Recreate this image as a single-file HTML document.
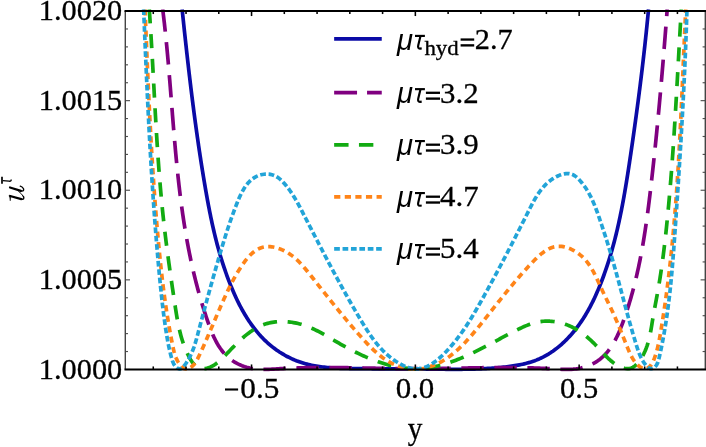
<!DOCTYPE html>
<html><head><meta charset="utf-8"><title>plot</title>
<style>
html,body{margin:0;padding:0;background:#fff;}
body{width:706px;height:447px;overflow:hidden;}
svg{display:block;will-change:transform;}
text{fill:#000;stroke:#000;stroke-width:0.3px;}
.s{font-family:"Liberation Serif",serif;}
.si{font-family:"Liberation Serif",serif;font-style:italic;}
.sa{font-family:"Liberation Sans",sans-serif;}
.sai{font-family:"Liberation Sans",sans-serif;font-style:italic;}
</style></head><body>
<svg width="706" height="447" viewBox="0 0 706 447">
<rect width="706" height="447" fill="#fff"/>
<defs><clipPath id="c"><rect x="125.3" y="9.3" width="580.0" height="362.35"/></clipPath></defs>
<g clip-path="url(#c)" stroke-linecap="butt" stroke-linejoin="round">
<path d="M182.14,9.32 L182.30,10.91 L182.47,12.49 L182.63,14.08 L182.80,15.66 L182.97,17.25 L183.13,18.83 L183.30,20.42 L183.47,22.01 L183.64,23.59 L183.80,25.18 L183.97,26.77 L184.14,28.35 L184.31,29.94 L184.48,31.53 L184.65,33.12 L184.83,34.70 L185.00,36.29 L185.17,37.88 L185.34,39.47 L185.52,41.06 L185.69,42.65 L185.86,44.24 L186.04,45.83 L186.21,47.41 L186.39,49.00 L186.57,50.59 L186.74,52.18 L186.92,53.77 L187.10,55.36 L187.28,56.95 L187.46,58.55 L187.64,60.14 L187.82,61.73 L188.00,63.32 L188.18,64.91 L188.37,66.50 L188.55,68.09 L188.73,69.68 L188.92,71.27 L189.10,72.86 L189.29,74.45 L189.48,76.04 L189.67,77.63 L189.86,79.23 L190.05,80.82 L190.24,82.41 L190.43,84.00 L190.62,85.59 L190.81,87.18 L191.01,88.77 L191.20,90.36 L191.40,91.95 L191.59,93.54 L191.79,95.13 L191.99,96.72 L192.19,98.31 L192.39,99.90 L192.59,101.49 L192.79,103.08 L192.99,104.67 L193.20,106.26 L193.40,107.85 L193.61,109.44 L193.82,111.03 L194.02,112.62 L194.23,114.21 L194.44,115.80 L194.66,117.39 L194.87,118.98 L195.08,120.57 L195.30,122.15 L195.51,123.74 L195.73,125.33 L195.95,126.92 L196.16,128.50 L196.38,130.09 L196.61,131.68 L196.83,133.27 L197.05,134.85 L197.28,136.44 L197.50,138.02 L197.73,139.61 L197.96,141.19 L198.19,142.78 L198.42,144.36 L198.65,145.95 L198.88,147.53 L199.12,149.12 L199.35,150.70 L199.59,152.28 L199.83,153.86 L200.07,155.45 L200.31,157.03 L200.56,158.61 L200.80,160.19 L201.04,161.77 L201.29,163.35 L201.54,164.93 L201.79,166.51 L202.04,168.09 L202.29,169.67 L202.55,171.25 L202.80,172.83 L203.06,174.40 L203.32,175.98 L203.58,177.56 L203.84,179.13 L204.10,180.71 L204.37,182.28 L204.63,183.86 L204.90,185.43 L205.17,187.01 L205.44,188.58 L205.71,190.15 L205.99,191.72 L206.26,193.29 L206.54,194.87 L206.82,196.44 L207.11,198.01 L207.39,199.57 L207.68,201.14 L207.97,202.71 L208.27,204.28 L208.56,205.84 L208.86,207.41 L209.17,208.97 L209.47,210.54 L209.78,212.10 L210.09,213.66 L210.41,215.22 L210.73,216.78 L211.06,218.34 L211.39,219.90 L211.72,221.46 L212.05,223.02 L212.40,224.57 L212.74,226.13 L213.09,227.68 L213.45,229.23 L213.81,230.79 L214.17,232.34 L214.54,233.89 L214.91,235.44 L215.29,236.98 L215.68,238.53 L216.07,240.08 L216.46,241.62 L216.87,243.16 L217.27,244.70 L217.69,246.25 L218.10,247.79 L218.53,249.32 L218.96,250.86 L219.40,252.40 L219.84,253.93 L220.29,255.46 L220.75,257.00 L221.22,258.53 L221.69,260.05 L222.17,261.58 L222.65,263.11 L223.14,264.63 L223.64,266.16 L224.15,267.68 L224.67,269.20 L225.19,270.72 L225.72,272.24 L226.26,273.75 L226.80,275.27 L227.36,276.78 L227.92,278.29 L228.49,279.80 L229.07,281.31 L229.66,282.81 L230.26,284.32 L230.86,285.82 L231.48,287.32 L232.10,288.82 L232.74,290.32 L233.38,291.81 L234.03,293.30 L234.69,294.78 L235.37,296.27 L236.05,297.74 L236.75,299.21 L237.45,300.68 L238.17,302.14 L238.89,303.59 L239.63,305.04 L240.38,306.48 L241.14,307.91 L241.92,309.33 L242.70,310.75 L243.50,312.15 L244.31,313.55 L245.14,314.94 L245.98,316.32 L246.83,317.68 L247.69,319.04 L248.57,320.39 L249.46,321.72 L250.37,323.04 L251.28,324.35 L252.22,325.65 L253.17,326.94 L254.13,328.21 L255.11,329.46 L256.10,330.71 L257.11,331.94 L258.14,333.15 L259.18,334.35 L260.24,335.53 L261.31,336.69 L262.40,337.84 L263.51,338.97 L264.63,340.09 L265.77,341.18 L266.93,342.26 L268.10,343.32 L269.30,344.36 L270.51,345.38 L271.73,346.38 L272.98,347.36 L274.24,348.32 L275.51,349.26 L276.80,350.18 L278.11,351.08 L279.43,351.96 L280.77,352.81 L282.12,353.65 L283.48,354.46 L284.86,355.25 L286.25,356.01 L287.65,356.75 L289.07,357.47 L290.49,358.16 L291.93,358.83 L293.38,359.48 L294.84,360.10 L296.31,360.70 L297.80,361.27 L299.29,361.81 L300.79,362.33 L302.30,362.82 L303.82,363.29 L305.34,363.73 L306.88,364.14 L308.42,364.53 L309.97,364.89 L311.53,365.23 L313.09,365.55 L314.66,365.84 L316.23,366.12 L317.81,366.37 L319.40,366.60 L320.99,366.82 L322.59,367.02 L324.18,367.20 L325.79,367.37 L327.39,367.52 L329.00,367.66 L330.61,367.78 L332.23,367.89 L333.85,367.99 L335.46,368.08 L337.08,368.16 L338.70,368.23 L340.32,368.29 L341.94,368.35 L343.56,368.40 L345.18,368.44 L346.80,368.48 L348.42,368.51 L350.04,368.54 L351.65,368.57 L353.26,368.60 L354.88,368.62 L356.48,368.65 L358.09,368.67 L359.70,368.69 L361.30,368.70 L362.91,368.72 L364.51,368.73 L366.11,368.74 L367.71,368.75 L369.31,368.76 L370.91,368.77 L372.50,368.78 L374.10,368.78 L375.70,368.79 L377.29,368.79 L378.88,368.79 L380.48,368.80 L382.07,368.80 L383.66,368.80 L385.25,368.80 L386.84,368.80 L388.43,368.80 L390.02,368.80 L391.61,368.80 L393.20,368.81 L394.79,368.81 L396.38,368.81 L397.97,368.81 L399.56,368.81 L401.15,368.82 L402.74,368.82 L404.33,368.83 L405.92,368.83 L407.51,368.84 L409.10,368.85 L410.69,368.86 L412.28,368.87 L413.87,368.88 L415.47,368.90 L417.06,368.91 L418.65,368.93 L420.25,368.95 L421.84,368.97 L423.44,368.99 L425.04,369.01 L426.63,369.04 L428.23,369.06 L429.83,369.08 L431.43,369.10 L433.03,369.13 L434.63,369.15 L436.23,369.17 L437.83,369.19 L439.43,369.21 L441.04,369.23 L442.64,369.25 L444.24,369.26 L445.84,369.28 L447.45,369.29 L449.05,369.30 L450.65,369.31 L452.26,369.32 L453.86,369.32 L455.47,369.32 L457.07,369.32 L458.68,369.31 L460.28,369.30 L461.89,369.29 L463.49,369.27 L465.10,369.26 L466.70,369.23 L468.31,369.20 L469.91,369.17 L471.52,369.13 L473.13,369.09 L474.73,369.05 L476.34,368.99 L477.94,368.94 L479.55,368.87 L481.15,368.81 L482.76,368.73 L484.36,368.65 L485.97,368.56 L487.57,368.47 L489.18,368.37 L490.78,368.27 L492.38,368.15 L493.99,368.03 L495.59,367.90 L497.20,367.77 L498.80,367.62 L500.40,367.47 L502.00,367.31 L503.60,367.15 L505.21,366.97 L506.81,366.79 L508.40,366.59 L510.00,366.38 L511.60,366.16 L513.19,365.93 L514.77,365.68 L516.36,365.42 L517.94,365.14 L519.51,364.85 L521.07,364.53 L522.63,364.20 L524.18,363.84 L525.73,363.47 L527.26,363.07 L528.79,362.65 L530.30,362.20 L531.81,361.72 L533.30,361.22 L534.79,360.70 L536.26,360.14 L537.71,359.55 L539.16,358.94 L540.59,358.29 L542.00,357.61 L543.41,356.91 L544.80,356.17 L546.17,355.41 L547.53,354.62 L548.88,353.80 L550.21,352.95 L551.53,352.08 L552.84,351.19 L554.13,350.27 L555.40,349.33 L556.67,348.36 L557.91,347.37 L559.15,346.36 L560.37,345.33 L561.57,344.28 L562.76,343.20 L563.93,342.11 L565.09,341.00 L566.24,339.87 L567.36,338.72 L568.48,337.55 L569.58,336.37 L570.66,335.17 L571.73,333.96 L572.78,332.73 L573.82,331.48 L574.84,330.23 L575.85,328.96 L576.84,327.67 L577.82,326.38 L578.78,325.07 L579.72,323.75 L580.65,322.43 L581.56,321.09 L582.46,319.74 L583.34,318.39 L584.20,317.03 L585.05,315.66 L585.88,314.28 L586.70,312.89 L587.51,311.50 L588.30,310.10 L589.08,308.69 L589.85,307.28 L590.60,305.86 L591.34,304.43 L592.06,303.00 L592.78,301.56 L593.48,300.12 L594.17,298.67 L594.86,297.21 L595.53,295.76 L596.18,294.29 L596.83,292.83 L597.47,291.36 L598.11,289.88 L598.73,288.41 L599.34,286.93 L599.94,285.44 L600.54,283.96 L601.13,282.47 L601.71,280.98 L602.28,279.48 L602.84,277.99 L603.40,276.49 L603.95,274.99 L604.49,273.49 L605.03,271.98 L605.55,270.47 L606.07,268.97 L606.59,267.45 L607.09,265.94 L607.59,264.42 L608.08,262.91 L608.57,261.39 L609.05,259.86 L609.52,258.34 L609.99,256.81 L610.44,255.29 L610.90,253.76 L611.34,252.23 L611.79,250.69 L612.22,249.16 L612.65,247.62 L613.07,246.08 L613.49,244.54 L613.90,243.00 L614.31,241.46 L614.71,239.91 L615.10,238.36 L615.49,236.81 L615.88,235.26 L616.26,233.71 L616.63,232.16 L617.00,230.61 L617.36,229.05 L617.72,227.49 L618.08,225.94 L618.43,224.38 L618.77,222.82 L619.11,221.25 L619.45,219.69 L619.78,218.13 L620.11,216.56 L620.44,214.99 L620.76,213.43 L621.07,211.86 L621.39,210.29 L621.70,208.72 L622.00,207.15 L622.30,205.57 L622.60,204.00 L622.90,202.43 L623.19,200.85 L623.48,199.28 L623.76,197.70 L624.04,196.12 L624.32,194.54 L624.60,192.97 L624.87,191.39 L625.14,189.81 L625.41,188.23 L625.68,186.65 L625.94,185.06 L626.20,183.48 L626.46,181.90 L626.72,180.32 L626.97,178.73 L627.23,177.15 L627.48,175.57 L627.73,173.98 L627.97,172.40 L628.22,170.82 L628.46,169.23 L628.71,167.65 L628.95,166.06 L629.19,164.48 L629.43,162.89 L629.66,161.31 L629.90,159.72 L630.14,158.14 L630.37,156.55 L630.61,154.97 L630.84,153.38 L631.07,151.80 L631.30,150.21 L631.54,148.63 L631.77,147.05 L632.00,145.46 L632.23,143.88 L632.46,142.29 L632.68,140.71 L632.91,139.13 L633.14,137.54 L633.36,135.96 L633.59,134.38 L633.81,132.79 L634.03,131.21 L634.26,129.63 L634.48,128.04 L634.70,126.46 L634.92,124.87 L635.14,123.29 L635.36,121.71 L635.58,120.12 L635.79,118.54 L636.01,116.96 L636.22,115.37 L636.44,113.79 L636.65,112.21 L636.87,110.62 L637.08,109.04 L637.29,107.46 L637.50,105.87 L637.71,104.29 L637.92,102.70 L638.13,101.12 L638.33,99.54 L638.54,97.95 L638.74,96.37 L638.95,94.78 L639.15,93.20 L639.35,91.61 L639.56,90.03 L639.76,88.45 L639.96,86.86 L640.16,85.28 L640.35,83.69 L640.55,82.10 L640.75,80.52 L640.94,78.93 L641.14,77.35 L641.33,75.76 L641.52,74.18 L641.72,72.59 L641.91,71.00 L642.10,69.42 L642.28,67.83 L642.47,66.24 L642.66,64.65 L642.85,63.07 L643.03,61.48 L643.21,59.89 L643.40,58.30 L643.58,56.71 L643.76,55.12 L643.94,53.54 L644.12,51.95 L644.30,50.36 L644.47,48.77 L644.65,47.18 L644.83,45.59 L645.00,43.99 L645.17,42.40 L645.34,40.81 L645.52,39.22 L645.69,37.63 L645.85,36.04 L646.02,34.44 L646.19,32.85 L646.36,31.26 L646.52,29.66 L646.68,28.07 L646.85,26.48 L647.01,24.88 L647.17,23.29 L647.33,21.69 L647.49,20.09 L647.64,18.50 L647.80,16.90 L647.95,15.30 L648.11,13.71 L648.26,12.11 L648.41,10.51 L648.53,9.28" fill="none" stroke="#0a0aa6" stroke-width="3.7"/>
<path d="M162.71,9.37 L162.91,10.95 L163.10,12.54 L163.29,14.13 L163.49,15.71 L163.67,17.30 L163.86,18.89 L164.04,20.48 L164.23,22.07 L164.41,23.66 L164.58,25.25 L164.76,26.84 L164.93,28.43 L165.10,30.02 L165.27,31.61 L165.44,33.20 L165.61,34.79 L165.77,36.38 L165.93,37.97 L166.09,39.56 L166.25,41.15 L166.41,42.75 L166.56,44.34 L166.72,45.93 L166.87,47.52 L167.02,49.12 L167.17,50.71 L167.32,52.30 L167.46,53.90 L167.61,55.49 L167.75,57.09 L167.90,58.68 L168.04,60.27 L168.18,61.87 L168.32,63.46 L168.46,65.06 L168.59,66.65 L168.73,68.25 L168.87,69.84 L169.00,71.44 L169.13,73.03 L169.27,74.63 L169.40,76.23 L169.53,77.82 L169.66,79.42 L169.79,81.01 L169.92,82.61 L170.05,84.21 L170.18,85.80 L170.31,87.40 L170.43,88.99 L170.56,90.59 L170.69,92.19 L170.81,93.78 L170.94,95.38 L171.07,96.98 L171.19,98.57 L171.32,100.17 L171.45,101.76 L171.57,103.36 L171.70,104.96 L171.82,106.55 L171.95,108.15 L172.07,109.75 L172.20,111.34 L172.33,112.94 L172.45,114.53 L172.58,116.13 L172.71,117.73 L172.84,119.32 L172.96,120.92 L173.09,122.51 L173.22,124.11 L173.35,125.71 L173.48,127.30 L173.61,128.90 L173.74,130.49 L173.88,132.09 L174.01,133.68 L174.14,135.28 L174.28,136.87 L174.41,138.47 L174.55,140.06 L174.69,141.66 L174.83,143.25 L174.97,144.84 L175.11,146.44 L175.25,148.03 L175.39,149.63 L175.54,151.22 L175.68,152.81 L175.83,154.41 L175.98,156.00 L176.13,157.59 L176.28,159.18 L176.43,160.78 L176.59,162.37 L176.74,163.96 L176.90,165.55 L177.06,167.14 L177.22,168.73 L177.38,170.32 L177.55,171.91 L177.71,173.50 L177.88,175.09 L178.05,176.68 L178.22,178.27 L178.40,179.86 L178.57,181.45 L178.75,183.04 L178.93,184.62 L179.11,186.21 L179.30,187.80 L179.48,189.39 L179.67,190.97 L179.86,192.56 L180.06,194.15 L180.25,195.73 L180.45,197.32 L180.65,198.90 L180.86,200.49 L181.06,202.07 L181.27,203.65 L181.49,205.24 L181.70,206.82 L181.92,208.40 L182.14,209.98 L182.36,211.56 L182.58,213.15 L182.81,214.73 L183.05,216.31 L183.28,217.89 L183.52,219.47 L183.76,221.04 L184.00,222.62 L184.25,224.20 L184.50,225.78 L184.75,227.36 L185.01,228.93 L185.27,230.51 L185.53,232.08 L185.80,233.66 L186.07,235.23 L186.35,236.81 L186.62,238.38 L186.90,239.95 L187.19,241.52 L187.48,243.10 L187.77,244.67 L188.07,246.24 L188.37,247.81 L188.67,249.38 L188.98,250.95 L189.29,252.51 L189.61,254.08 L189.93,255.65 L190.25,257.22 L190.58,258.78 L190.91,260.35 L191.25,261.91 L191.59,263.48 L191.93,265.04 L192.28,266.60 L192.63,268.16 L192.99,269.73 L193.35,271.29 L193.72,272.85 L194.09,274.41 L194.47,275.96 L194.85,277.52 L195.23,279.08 L195.62,280.64 L196.02,282.19 L196.42,283.75 L196.82,285.30 L197.23,286.86 L197.65,288.41 L198.07,289.96 L198.49,291.51 L198.92,293.06 L199.35,294.61 L199.79,296.16 L200.24,297.71 L200.69,299.26 L201.14,300.81 L201.60,302.35 L202.07,303.90 L202.54,305.44 L203.02,306.99 L203.50,308.53 L203.99,310.07 L204.48,311.61 L204.98,313.15 L205.48,314.69 L205.99,316.23 L206.51,317.77 L207.03,319.31 L207.56,320.84 L208.09,322.38 L208.63,323.91 L209.18,325.44 L209.74,326.96 L210.31,328.48 L210.90,329.99 L211.50,331.49 L212.11,332.98 L212.74,334.46 L213.39,335.92 L214.05,337.37 L214.74,338.80 L215.45,340.22 L216.18,341.62 L216.93,343.00 L217.71,344.35 L218.52,345.69 L219.36,347.00 L220.22,348.28 L221.12,349.54 L222.04,350.78 L223.00,351.98 L224.00,353.15 L225.02,354.29 L226.09,355.40 L227.20,356.47 L228.34,357.51 L229.52,358.51 L230.75,359.47 L232.02,360.40 L233.33,361.28 L234.69,362.12 L236.08,362.92 L237.51,363.67 L238.97,364.38 L240.46,365.04 L241.97,365.66 L243.50,366.23 L245.05,366.75 L246.61,367.22 L248.19,367.65 L249.77,368.02 L251.35,368.34 L252.94,368.61 L254.53,368.84 L256.12,369.03 L257.71,369.17 L259.31,369.28 L260.91,369.35 L262.51,369.40 L264.12,369.42 L265.72,369.41 L267.33,369.38 L268.93,369.33 L270.54,369.26 L272.15,369.19 L273.76,369.10 L275.37,369.01 L276.98,368.91 L278.59,368.81 L280.20,368.71 L281.81,368.62 L283.42,368.53 L285.03,368.45 L286.64,368.37 L288.25,368.30 L289.86,368.23 L291.47,368.16 L293.07,368.10 L294.68,368.04 L296.29,367.98 L297.90,367.93 L299.50,367.88 L301.11,367.84 L302.71,367.80 L304.32,367.76 L305.93,367.72 L307.53,367.69 L309.13,367.66 L310.74,367.64 L312.34,367.62 L313.95,367.60 L315.55,367.58 L317.15,367.57 L318.76,367.56 L320.36,367.55 L321.96,367.54 L323.56,367.54 L325.17,367.54 L326.77,367.54 L328.37,367.54 L329.97,367.54 L331.57,367.55 L333.17,367.56 L334.77,367.57 L336.37,367.58 L337.97,367.60 L339.57,367.61 L341.17,367.63 L342.77,367.65 L344.37,367.67 L345.97,367.69 L347.57,367.72 L349.17,367.74 L350.77,367.77 L352.37,367.79 L353.97,367.82 L355.56,367.85 L357.16,367.87 L358.76,367.90 L360.36,367.93 L361.95,367.96 L363.55,367.99 L365.15,368.02 L366.74,368.06 L368.34,368.09 L369.94,368.12 L371.53,368.15 L373.13,368.18 L374.73,368.21 L376.32,368.24 L377.92,368.27 L379.51,368.30 L381.11,368.33 L382.71,368.36 L384.30,368.39 L385.90,368.42 L387.49,368.45 L389.09,368.48 L390.68,368.50 L392.28,368.53 L393.87,368.55 L395.47,368.57 L397.06,368.59 L398.66,368.61 L400.25,368.63 L401.85,368.65 L403.44,368.66 L405.03,368.68 L406.63,368.69 L408.22,368.70 L409.82,368.71 L411.41,368.71 L413.01,368.72 L414.60,368.72 L416.19,368.72 L417.79,368.72 L419.38,368.71 L420.98,368.71 L422.57,368.70 L424.16,368.69 L425.76,368.68 L427.35,368.66 L428.95,368.65 L430.54,368.63 L432.13,368.61 L433.73,368.59 L435.32,368.57 L436.92,368.55 L438.51,368.52 L440.10,368.50 L441.70,368.47 L443.29,368.45 L444.89,368.42 L446.48,368.39 L448.08,368.36 L449.67,368.33 L451.27,368.30 L452.86,368.27 L454.46,368.24 L456.05,368.21 L457.65,368.18 L459.24,368.15 L460.84,368.12 L462.43,368.08 L464.03,368.05 L465.63,368.02 L467.22,367.99 L468.82,367.96 L470.42,367.93 L472.01,367.90 L473.61,367.87 L475.21,367.84 L476.81,367.82 L478.40,367.79 L480.00,367.76 L481.60,367.74 L483.20,367.71 L484.80,367.69 L486.40,367.67 L488.00,367.65 L489.59,367.63 L491.19,367.61 L492.79,367.60 L494.40,367.58 L496.00,367.57 L497.60,367.56 L499.20,367.55 L500.80,367.54 L502.40,367.54 L504.00,367.54 L505.61,367.54 L507.21,367.54 L508.81,367.54 L510.42,367.55 L512.02,367.56 L513.62,367.57 L515.23,367.58 L516.83,367.60 L518.44,367.62 L520.05,367.64 L521.65,367.67 L523.26,367.69 L524.87,367.73 L526.47,367.76 L528.08,367.80 L529.69,367.84 L531.30,367.89 L532.91,367.93 L534.52,367.99 L536.13,368.04 L537.74,368.10 L539.35,368.16 L540.96,368.23 L542.57,368.30 L544.19,368.38 L545.80,368.46 L547.41,368.54 L549.03,368.63 L550.64,368.72 L552.26,368.82 L553.87,368.92 L555.49,369.01 L557.10,369.11 L558.72,369.19 L560.33,369.27 L561.94,369.33 L563.55,369.38 L565.16,369.41 L566.76,369.42 L568.36,369.40 L569.96,369.35 L571.55,369.28 L573.14,369.17 L574.73,369.02 L576.31,368.83 L577.88,368.60 L579.45,368.33 L581.01,368.00 L582.57,367.62 L584.12,367.20 L585.65,366.72 L587.17,366.20 L588.67,365.62 L590.15,365.00 L591.61,364.33 L593.04,363.62 L594.44,362.87 L595.81,362.07 L597.15,361.22 L598.44,360.34 L599.70,359.41 L600.92,358.45 L602.09,357.44 L603.24,356.41 L604.34,355.33 L605.41,354.22 L606.45,353.08 L607.45,351.90 L608.43,350.70 L609.37,349.47 L610.28,348.21 L611.16,346.92 L612.02,345.61 L612.85,344.27 L613.66,342.92 L614.44,341.54 L615.20,340.14 L615.93,338.72 L616.65,337.29 L617.35,335.84 L618.02,334.38 L618.68,332.90 L619.32,331.41 L619.95,329.91 L620.57,328.41 L621.16,326.89 L621.75,325.37 L622.33,323.84 L622.89,322.31 L623.45,320.77 L624.00,319.24 L624.54,317.70 L625.08,316.16 L625.60,314.62 L626.12,313.09 L626.63,311.55 L627.14,310.00 L627.64,308.46 L628.13,306.92 L628.61,305.38 L629.09,303.83 L629.56,302.29 L630.02,300.74 L630.48,299.19 L630.93,297.65 L631.37,296.10 L631.81,294.55 L632.24,293.00 L632.66,291.45 L633.08,289.89 L633.49,288.34 L633.90,286.79 L634.30,285.23 L634.69,283.68 L635.08,282.12 L635.46,280.57 L635.84,279.01 L636.21,277.45 L636.58,275.89 L636.94,274.33 L637.29,272.77 L637.64,271.21 L637.99,269.65 L638.33,268.09 L638.66,266.53 L638.99,264.96 L639.32,263.40 L639.64,261.83 L639.95,260.27 L640.26,258.70 L640.57,257.14 L640.87,255.57 L641.17,254.00 L641.46,252.43 L641.75,250.86 L642.04,249.29 L642.32,247.72 L642.59,246.15 L642.87,244.58 L643.13,243.01 L643.40,241.44 L643.66,239.86 L643.92,238.29 L644.17,236.72 L644.43,235.14 L644.67,233.57 L644.92,231.99 L645.16,230.41 L645.40,228.84 L645.63,227.26 L645.86,225.68 L646.09,224.10 L646.32,222.52 L646.54,220.95 L646.77,219.37 L646.98,217.79 L647.20,216.21 L647.41,214.62 L647.63,213.04 L647.83,211.46 L648.04,209.88 L648.25,208.30 L648.45,206.71 L648.65,205.13 L648.85,203.55 L649.05,201.96 L649.24,200.38 L649.44,198.79 L649.63,197.21 L649.82,195.62 L650.01,194.04 L650.20,192.45 L650.39,190.87 L650.57,189.28 L650.76,187.69 L650.94,186.10 L651.12,184.52 L651.31,182.93 L651.49,181.34 L651.67,179.75 L651.85,178.16 L652.03,176.57 L652.20,174.99 L652.38,173.40 L652.56,171.81 L652.73,170.22 L652.91,168.63 L653.08,167.04 L653.25,165.45 L653.43,163.85 L653.60,162.26 L653.77,160.67 L653.94,159.08 L654.11,157.49 L654.28,155.90 L654.45,154.30 L654.61,152.71 L654.78,151.12 L654.94,149.53 L655.11,147.93 L655.27,146.34 L655.44,144.75 L655.60,143.16 L655.76,141.56 L655.92,139.97 L656.08,138.37 L656.24,136.78 L656.40,135.19 L656.56,133.59 L656.72,132.00 L656.87,130.40 L657.03,128.81 L657.19,127.22 L657.34,125.62 L657.50,124.03 L657.65,122.43 L657.80,120.84 L657.95,119.24 L658.11,117.65 L658.26,116.05 L658.41,114.45 L658.56,112.86 L658.71,111.26 L658.86,109.67 L659.00,108.07 L659.15,106.48 L659.30,104.88 L659.44,103.29 L659.59,101.69 L659.73,100.09 L659.88,98.50 L660.02,96.90 L660.17,95.31 L660.31,93.71 L660.45,92.12 L660.59,90.52 L660.73,88.92 L660.88,87.33 L661.02,85.73 L661.15,84.14 L661.29,82.54 L661.43,80.95 L661.57,79.35 L661.71,77.75 L661.84,76.16 L661.98,74.56 L662.12,72.97 L662.25,71.37 L662.39,69.78 L662.52,68.18 L662.66,66.59 L662.79,64.99 L662.92,63.40 L663.06,61.80 L663.19,60.21 L663.32,58.61 L663.45,57.02 L663.58,55.42 L663.71,53.83 L663.84,52.24 L663.97,50.64 L664.10,49.05 L664.23,47.45 L664.36,45.86 L664.49,44.27 L664.61,42.67 L664.74,41.08 L664.87,39.49 L665.00,37.89 L665.12,36.30 L665.25,34.71 L665.37,33.12 L665.50,31.52 L665.62,29.93 L665.75,28.34 L665.87,26.75 L665.99,25.16 L666.12,23.56 L666.24,21.97 L666.36,20.38 L666.49,18.79 L666.61,17.20 L666.73,15.61 L666.85,14.02 L666.97,12.43 L667.09,10.84 L667.21,9.34" fill="none" stroke="#800080" stroke-width="3.7" stroke-dasharray="22.4 10.6"/>
<path d="M149.28,9.31 L149.39,10.91 L149.50,12.50 L149.61,14.10 L149.72,15.69 L149.83,17.29 L149.94,18.89 L150.04,20.48 L150.15,22.08 L150.25,23.67 L150.35,25.27 L150.46,26.87 L150.56,28.46 L150.66,30.06 L150.76,31.66 L150.86,33.25 L150.95,34.85 L151.05,36.45 L151.15,38.04 L151.24,39.64 L151.34,41.24 L151.43,42.83 L151.53,44.43 L151.62,46.03 L151.71,47.62 L151.81,49.22 L151.90,50.82 L151.99,52.42 L152.08,54.01 L152.17,55.61 L152.26,57.21 L152.35,58.81 L152.44,60.40 L152.53,62.00 L152.62,63.60 L152.70,65.20 L152.79,66.79 L152.88,68.39 L152.97,69.99 L153.05,71.59 L153.14,73.19 L153.23,74.78 L153.31,76.38 L153.40,77.98 L153.48,79.58 L153.57,81.18 L153.66,82.77 L153.74,84.37 L153.83,85.97 L153.92,87.57 L154.00,89.16 L154.09,90.76 L154.17,92.36 L154.26,93.96 L154.35,95.56 L154.43,97.15 L154.52,98.75 L154.61,100.35 L154.69,101.95 L154.78,103.55 L154.87,105.14 L154.96,106.74 L155.05,108.34 L155.14,109.94 L155.22,111.53 L155.31,113.13 L155.40,114.73 L155.50,116.33 L155.59,117.93 L155.68,119.52 L155.77,121.12 L155.86,122.72 L155.96,124.32 L156.05,125.91 L156.14,127.51 L156.24,129.11 L156.34,130.70 L156.43,132.30 L156.53,133.90 L156.63,135.50 L156.73,137.09 L156.83,138.69 L156.93,140.29 L157.03,141.88 L157.13,143.48 L157.23,145.08 L157.34,146.67 L157.44,148.27 L157.55,149.87 L157.65,151.46 L157.76,153.06 L157.87,154.66 L157.98,156.25 L158.09,157.85 L158.20,159.44 L158.32,161.04 L158.43,162.64 L158.55,164.23 L158.66,165.83 L158.78,167.42 L158.90,169.02 L159.02,170.61 L159.15,172.21 L159.27,173.80 L159.39,175.40 L159.52,176.99 L159.65,178.59 L159.78,180.18 L159.91,181.78 L160.04,183.37 L160.17,184.97 L160.31,186.56 L160.44,188.15 L160.58,189.75 L160.72,191.34 L160.86,192.93 L161.01,194.53 L161.15,196.12 L161.30,197.71 L161.44,199.31 L161.59,200.90 L161.75,202.49 L161.90,204.09 L162.06,205.68 L162.21,207.27 L162.37,208.86 L162.53,210.46 L162.69,212.05 L162.86,213.64 L163.03,215.23 L163.20,216.82 L163.37,218.41 L163.54,220.00 L163.71,221.59 L163.89,223.19 L164.07,224.78 L164.25,226.37 L164.43,227.96 L164.62,229.55 L164.80,231.14 L164.99,232.73 L165.18,234.32 L165.37,235.90 L165.57,237.49 L165.76,239.08 L165.96,240.67 L166.16,242.26 L166.36,243.85 L166.56,245.44 L166.77,247.02 L166.97,248.61 L167.18,250.20 L167.39,251.79 L167.59,253.37 L167.81,254.96 L168.02,256.54 L168.23,258.13 L168.45,259.72 L168.66,261.30 L168.88,262.89 L169.10,264.47 L169.32,266.06 L169.54,267.64 L169.76,269.23 L169.98,270.81 L170.21,272.39 L170.43,273.98 L170.66,275.56 L170.88,277.14 L171.11,278.73 L171.34,280.31 L171.57,281.89 L171.80,283.47 L172.03,285.05 L172.26,286.64 L172.49,288.22 L172.73,289.80 L172.96,291.38 L173.19,292.96 L173.43,294.54 L173.66,296.12 L173.90,297.69 L174.14,299.27 L174.37,300.85 L174.61,302.43 L174.85,304.01 L175.09,305.58 L175.33,307.16 L175.57,308.74 L175.81,310.31 L176.06,311.89 L176.31,313.46 L176.57,315.04 L176.83,316.61 L177.10,318.18 L177.38,319.75 L177.67,321.32 L177.97,322.89 L178.28,324.45 L178.60,326.01 L178.93,327.58 L179.28,329.14 L179.65,330.69 L180.03,332.25 L180.42,333.80 L180.83,335.36 L181.27,336.91 L181.72,338.45 L182.19,340.00 L182.68,341.54 L183.20,343.08 L183.74,344.61 L184.30,346.14 L184.88,347.67 L185.50,349.20 L186.14,350.72 L186.80,352.24 L187.50,353.76 L188.23,355.27 L188.98,356.76 L189.78,358.23 L190.61,359.66 L191.49,361.02 L192.40,362.32 L193.37,363.54 L194.39,364.66 L195.46,365.67 L196.59,366.55 L197.78,367.30 L199.04,367.90 L200.36,368.34 L201.74,368.60 L203.18,368.70 L204.66,368.63 L206.16,368.41 L207.67,368.04 L209.18,367.53 L210.68,366.90 L212.15,366.16 L213.60,365.34 L215.00,364.44 L216.35,363.49 L217.66,362.50 L218.91,361.46 L220.13,360.39 L221.32,359.30 L222.48,358.18 L223.62,357.03 L224.75,355.88 L225.87,354.71 L227.00,353.54 L228.13,352.36 L229.26,351.18 L230.39,350.00 L231.53,348.82 L232.67,347.65 L233.81,346.48 L234.97,345.32 L236.13,344.16 L237.29,343.02 L238.46,341.88 L239.65,340.76 L240.84,339.66 L242.04,338.57 L243.25,337.50 L244.47,336.45 L245.70,335.42 L246.95,334.42 L248.21,333.44 L249.48,332.49 L250.77,331.56 L252.07,330.67 L253.39,329.81 L254.73,328.99 L256.08,328.20 L257.45,327.44 L258.84,326.73 L260.24,326.06 L261.67,325.43 L263.12,324.85 L264.59,324.31 L266.08,323.82 L267.59,323.38 L269.12,322.98 L270.68,322.64 L272.25,322.35 L273.84,322.11 L275.44,321.91 L277.06,321.75 L278.68,321.65 L280.31,321.58 L281.95,321.56 L283.59,321.58 L285.23,321.65 L286.87,321.75 L288.50,321.89 L290.13,322.07 L291.76,322.29 L293.37,322.55 L294.97,322.84 L296.56,323.17 L298.14,323.52 L299.69,323.92 L301.23,324.34 L302.75,324.80 L304.25,325.28 L305.73,325.80 L307.19,326.34 L308.65,326.90 L310.08,327.49 L311.51,328.11 L312.92,328.74 L314.33,329.40 L315.72,330.07 L317.10,330.77 L318.48,331.47 L319.85,332.20 L321.22,332.94 L322.58,333.69 L323.94,334.45 L325.30,335.23 L326.65,336.01 L328.01,336.80 L329.36,337.59 L330.72,338.39 L332.08,339.20 L333.45,340.01 L334.82,340.81 L336.20,341.62 L337.58,342.43 L338.98,343.23 L340.38,344.03 L341.79,344.83 L343.20,345.62 L344.63,346.41 L346.06,347.19 L347.50,347.97 L348.94,348.74 L350.40,349.51 L351.86,350.27 L353.32,351.02 L354.79,351.76 L356.27,352.49 L357.75,353.21 L359.24,353.93 L360.74,354.63 L362.23,355.32 L363.74,356.00 L365.25,356.67 L366.76,357.33 L368.28,357.97 L369.80,358.61 L371.32,359.22 L372.85,359.83 L374.39,360.41 L375.92,360.99 L377.46,361.54 L379.00,362.08 L380.55,362.61 L382.10,363.11 L383.65,363.60 L385.20,364.07 L386.75,364.52 L388.31,364.95 L389.86,365.36 L391.42,365.75 L392.98,366.12 L394.54,366.47 L396.10,366.80 L397.66,367.10 L399.22,367.38 L400.79,367.64 L402.35,367.87 L403.91,368.08 L405.47,368.26 L407.03,368.42 L408.59,368.55 L410.15,368.65 L411.71,368.73 L413.26,368.78 L414.82,368.80 L416.37,368.80 L417.92,368.76 L419.47,368.70 L421.01,368.61 L422.56,368.49 L424.10,368.34 L425.64,368.17 L427.18,367.98 L428.71,367.76 L430.25,367.51 L431.78,367.24 L433.31,366.95 L434.84,366.64 L436.36,366.30 L437.89,365.94 L439.41,365.57 L440.93,365.17 L442.45,364.75 L443.96,364.31 L445.48,363.85 L446.99,363.38 L448.50,362.88 L450.01,362.37 L451.51,361.85 L453.02,361.30 L454.52,360.75 L456.02,360.17 L457.52,359.59 L459.01,358.98 L460.51,358.37 L462.00,357.74 L463.49,357.10 L464.97,356.45 L466.46,355.79 L467.94,355.12 L469.42,354.43 L470.90,353.74 L472.38,353.04 L473.86,352.33 L475.33,351.61 L476.80,350.89 L478.27,350.15 L479.74,349.42 L481.20,348.67 L482.66,347.92 L484.12,347.17 L485.58,346.42 L487.04,345.65 L488.49,344.89 L489.94,344.13 L491.39,343.36 L492.84,342.59 L494.29,341.82 L495.73,341.05 L497.17,340.28 L498.61,339.51 L500.05,338.75 L501.48,337.98 L502.92,337.22 L504.35,336.46 L505.78,335.71 L507.20,334.95 L508.63,334.21 L510.05,333.47 L511.47,332.73 L512.89,332.00 L514.30,331.28 L515.72,330.57 L517.13,329.86 L518.54,329.17 L519.95,328.48 L521.36,327.81 L522.78,327.16 L524.19,326.53 L525.62,325.92 L527.05,325.34 L528.48,324.79 L529.93,324.26 L531.38,323.77 L532.84,323.31 L534.32,322.88 L535.81,322.50 L537.32,322.16 L538.84,321.86 L540.37,321.61 L541.93,321.41 L543.50,321.27 L545.09,321.17 L546.71,321.13 L548.34,321.15 L549.99,321.22 L551.64,321.35 L553.30,321.52 L554.96,321.75 L556.61,322.02 L558.26,322.34 L559.89,322.70 L561.50,323.11 L563.09,323.56 L564.66,324.04 L566.19,324.57 L567.70,325.14 L569.18,325.74 L570.64,326.38 L572.08,327.05 L573.49,327.76 L574.87,328.50 L576.24,329.27 L577.58,330.08 L578.91,330.91 L580.21,331.77 L581.50,332.67 L582.76,333.59 L584.02,334.53 L585.25,335.50 L586.47,336.50 L587.67,337.52 L588.87,338.56 L590.04,339.62 L591.21,340.70 L592.37,341.80 L593.51,342.92 L594.65,344.06 L595.77,345.22 L596.89,346.39 L598.00,347.57 L599.11,348.77 L600.21,349.98 L601.32,351.19 L602.43,352.40 L603.54,353.60 L604.67,354.80 L605.81,355.98 L606.97,357.14 L608.14,358.28 L609.35,359.40 L610.57,360.48 L611.83,361.53 L613.12,362.53 L614.44,363.50 L615.81,364.41 L617.21,365.27 L618.63,366.06 L620.08,366.76 L621.54,367.37 L623.01,367.87 L624.47,368.26 L625.92,368.51 L627.35,368.61 L628.75,368.56 L630.12,368.34 L631.45,367.93 L632.73,367.36 L633.97,366.63 L635.16,365.75 L636.31,364.75 L637.41,363.63 L638.47,362.41 L639.48,361.11 L640.44,359.73 L641.35,358.29 L642.22,356.81 L643.03,355.31 L643.80,353.78 L644.52,352.25 L645.20,350.72 L645.82,349.19 L646.41,347.66 L646.96,346.12 L647.47,344.58 L647.95,343.03 L648.39,341.49 L648.81,339.94 L649.20,338.39 L649.56,336.84 L649.90,335.29 L650.23,333.73 L650.53,332.18 L650.82,330.62 L651.10,329.06 L651.37,327.50 L651.63,325.94 L651.88,324.37 L652.13,322.81 L652.38,321.24 L652.64,319.68 L652.90,318.11 L653.16,316.54 L653.43,314.97 L653.71,313.40 L653.99,311.83 L654.28,310.26 L654.57,308.69 L654.86,307.11 L655.16,305.54 L655.45,303.96 L655.75,302.39 L656.05,300.81 L656.34,299.24 L656.64,297.66 L656.93,296.08 L657.22,294.51 L657.51,292.93 L657.79,291.35 L658.07,289.77 L658.35,288.19 L658.62,286.61 L658.89,285.03 L659.15,283.45 L659.41,281.87 L659.67,280.29 L659.92,278.71 L660.17,277.13 L660.41,275.54 L660.65,273.96 L660.89,272.38 L661.13,270.79 L661.36,269.21 L661.59,267.63 L661.81,266.04 L662.03,264.46 L662.25,262.87 L662.47,261.29 L662.68,259.70 L662.89,258.11 L663.10,256.53 L663.30,254.94 L663.50,253.35 L663.70,251.77 L663.90,250.18 L664.09,248.59 L664.28,247.00 L664.47,245.41 L664.66,243.83 L664.84,242.24 L665.03,240.65 L665.21,239.06 L665.38,237.47 L665.56,235.88 L665.73,234.29 L665.91,232.70 L666.08,231.11 L666.24,229.52 L666.41,227.93 L666.57,226.34 L666.74,224.74 L666.90,223.15 L667.06,221.56 L667.22,219.97 L667.38,218.38 L667.53,216.79 L667.69,215.19 L667.84,213.60 L667.99,212.01 L668.14,210.42 L668.29,208.83 L668.44,207.23 L668.59,205.64 L668.73,204.05 L668.88,202.45 L669.02,200.86 L669.16,199.27 L669.30,197.67 L669.44,196.08 L669.58,194.49 L669.72,192.89 L669.85,191.30 L669.99,189.71 L670.12,188.11 L670.25,186.52 L670.38,184.92 L670.51,183.33 L670.64,181.73 L670.77,180.14 L670.90,178.54 L671.02,176.95 L671.15,175.36 L671.27,173.76 L671.40,172.17 L671.52,170.57 L671.64,168.97 L671.76,167.38 L671.88,165.78 L672.00,164.19 L672.12,162.59 L672.23,161.00 L672.35,159.40 L672.46,157.81 L672.58,156.21 L672.69,154.61 L672.80,153.02 L672.92,151.42 L673.03,149.83 L673.14,148.23 L673.25,146.63 L673.35,145.04 L673.46,143.44 L673.57,141.84 L673.68,140.25 L673.78,138.65 L673.89,137.05 L673.99,135.46 L674.09,133.86 L674.20,132.26 L674.30,130.67 L674.40,129.07 L674.50,127.47 L674.60,125.88 L674.70,124.28 L674.80,122.68 L674.90,121.08 L675.00,119.49 L675.10,117.89 L675.20,116.29 L675.29,114.69 L675.39,113.10 L675.49,111.50 L675.58,109.90 L675.68,108.30 L675.77,106.71 L675.87,105.11 L675.96,103.51 L676.05,101.91 L676.15,100.32 L676.24,98.72 L676.33,97.12 L676.42,95.52 L676.52,93.93 L676.61,92.33 L676.70,90.73 L676.79,89.13 L676.88,87.54 L676.97,85.94 L677.06,84.34 L677.15,82.74 L677.24,81.14 L677.33,79.55 L677.42,77.95 L677.51,76.35 L677.60,74.75 L677.69,73.16 L677.78,71.56 L677.87,69.96 L677.96,68.36 L678.05,66.77 L678.13,65.17 L678.22,63.57 L678.31,61.97 L678.40,60.37 L678.49,58.78 L678.58,57.18 L678.67,55.58 L678.76,53.98 L678.84,52.39 L678.93,50.79 L679.02,49.19 L679.11,47.59 L679.20,46.00 L679.29,44.40 L679.38,42.80 L679.47,41.21 L679.56,39.61 L679.65,38.01 L679.74,36.41 L679.83,34.82 L679.92,33.22 L680.01,31.62 L680.10,30.03 L680.19,28.43 L680.28,26.83 L680.38,25.24 L680.47,23.64 L680.56,22.04 L680.65,20.45 L680.75,18.85 L680.84,17.25 L680.93,15.66 L681.03,14.06 L681.12,12.46 L681.22,10.87 L681.31,9.31" fill="none" stroke="#12ab12" stroke-width="3.7" stroke-dasharray="14.2 10.58"/>
<path d="M145.01,9.32 L145.08,10.92 L145.14,12.51 L145.21,14.11 L145.28,15.70 L145.34,17.30 L145.41,18.89 L145.47,20.49 L145.54,22.08 L145.61,23.68 L145.67,25.27 L145.74,26.87 L145.81,28.47 L145.87,30.06 L145.94,31.66 L146.00,33.25 L146.07,34.85 L146.14,36.45 L146.20,38.04 L146.27,39.64 L146.34,41.24 L146.40,42.84 L146.47,44.43 L146.54,46.03 L146.61,47.63 L146.67,49.23 L146.74,50.82 L146.81,52.42 L146.88,54.02 L146.95,55.62 L147.01,57.22 L147.08,58.81 L147.15,60.41 L147.22,62.01 L147.29,63.61 L147.36,65.21 L147.43,66.81 L147.50,68.41 L147.57,70.00 L147.64,71.60 L147.71,73.20 L147.78,74.80 L147.85,76.40 L147.92,78.00 L148.00,79.60 L148.07,81.20 L148.14,82.80 L148.21,84.40 L148.29,86.00 L148.36,87.60 L148.43,89.20 L148.51,90.80 L148.58,92.40 L148.66,94.00 L148.73,95.60 L148.81,97.19 L148.88,98.79 L148.96,100.39 L149.04,101.99 L149.12,103.59 L149.19,105.19 L149.27,106.79 L149.35,108.39 L149.43,109.99 L149.51,111.59 L149.59,113.19 L149.67,114.79 L149.75,116.39 L149.83,117.99 L149.92,119.59 L150.00,121.19 L150.08,122.79 L150.17,124.39 L150.25,125.99 L150.34,127.59 L150.42,129.19 L150.51,130.79 L150.59,132.39 L150.68,133.99 L150.77,135.59 L150.86,137.19 L150.95,138.79 L151.04,140.39 L151.13,141.99 L151.22,143.59 L151.31,145.18 L151.40,146.78 L151.50,148.38 L151.59,149.98 L151.68,151.58 L151.78,153.18 L151.87,154.78 L151.97,156.38 L152.07,157.97 L152.17,159.57 L152.26,161.17 L152.36,162.77 L152.46,164.37 L152.56,165.97 L152.67,167.56 L152.77,169.16 L152.87,170.76 L152.98,172.36 L153.08,173.95 L153.19,175.55 L153.29,177.15 L153.40,178.75 L153.51,180.34 L153.62,181.94 L153.73,183.54 L153.84,185.13 L153.95,186.73 L154.06,188.33 L154.18,189.92 L154.29,191.52 L154.40,193.11 L154.52,194.71 L154.64,196.31 L154.76,197.90 L154.87,199.50 L154.99,201.09 L155.11,202.69 L155.24,204.28 L155.36,205.88 L155.48,207.47 L155.61,209.06 L155.73,210.66 L155.86,212.25 L155.99,213.85 L156.12,215.44 L156.25,217.03 L156.38,218.63 L156.51,220.22 L156.64,221.81 L156.77,223.40 L156.91,225.00 L157.05,226.59 L157.18,228.18 L157.32,229.77 L157.46,231.36 L157.60,232.95 L157.74,234.54 L157.88,236.14 L158.03,237.73 L158.17,239.32 L158.32,240.91 L158.47,242.50 L158.62,244.09 L158.76,245.67 L158.92,247.26 L159.07,248.85 L159.22,250.44 L159.38,252.03 L159.53,253.62 L159.69,255.21 L159.85,256.79 L160.01,258.38 L160.17,259.97 L160.34,261.55 L160.50,263.14 L160.67,264.73 L160.84,266.32 L161.01,267.90 L161.18,269.49 L161.36,271.07 L161.54,272.66 L161.72,274.25 L161.90,275.83 L162.08,277.42 L162.27,279.00 L162.45,280.59 L162.64,282.18 L162.84,283.76 L163.03,285.35 L163.23,286.93 L163.43,288.52 L163.63,290.10 L163.84,291.69 L164.04,293.27 L164.25,294.86 L164.47,296.44 L164.68,298.03 L164.90,299.62 L165.12,301.20 L165.35,302.79 L165.57,304.37 L165.80,305.96 L166.04,307.54 L166.27,309.13 L166.51,310.71 L166.76,312.30 L167.00,313.89 L167.25,315.47 L167.51,317.06 L167.76,318.64 L168.02,320.23 L168.29,321.82 L168.55,323.40 L168.82,324.99 L169.10,326.58 L169.38,328.16 L169.66,329.75 L169.94,331.34 L170.23,332.93 L170.52,334.51 L170.82,336.10 L171.12,337.69 L171.43,339.28 L171.74,340.87 L172.05,342.45 L172.37,344.04 L172.69,345.63 L173.02,347.22 L173.36,348.80 L173.73,350.37 L174.12,351.93 L174.55,353.48 L175.02,355.00 L175.53,356.50 L176.10,357.98 L176.73,359.42 L177.43,360.83 L178.21,362.20 L179.06,363.53 L180.00,364.81 L181.04,366.04 L182.17,367.17 L183.39,368.09 L184.70,368.72 L186.11,368.96 L187.57,368.80 L189.04,368.31 L190.49,367.54 L191.85,366.58 L193.10,365.48 L194.20,364.28 L195.17,363.01 L196.05,361.67 L196.84,360.29 L197.58,358.87 L198.29,357.43 L198.98,355.98 L199.67,354.52 L200.35,353.06 L201.03,351.60 L201.71,350.13 L202.38,348.66 L203.05,347.19 L203.72,345.71 L204.38,344.23 L205.04,342.75 L205.69,341.27 L206.34,339.79 L206.99,338.30 L207.64,336.81 L208.29,335.33 L208.93,333.84 L209.57,332.35 L210.21,330.86 L210.85,329.37 L211.48,327.88 L212.12,326.40 L212.75,324.91 L213.38,323.42 L214.01,321.94 L214.65,320.45 L215.28,318.97 L215.91,317.49 L216.54,316.02 L217.17,314.54 L217.80,313.07 L218.43,311.60 L219.06,310.14 L219.69,308.68 L220.32,307.22 L220.96,305.76 L221.59,304.32 L222.23,302.87 L222.87,301.43 L223.51,300.00 L224.15,298.57 L224.79,297.14 L225.44,295.73 L226.09,294.31 L226.74,292.90 L227.40,291.50 L228.07,290.10 L228.75,288.70 L229.43,287.31 L230.12,285.91 L230.83,284.52 L231.54,283.13 L232.27,281.74 L233.01,280.35 L233.77,278.96 L234.54,277.57 L235.33,276.17 L236.13,274.78 L236.96,273.38 L237.80,271.97 L238.67,270.57 L239.56,269.16 L240.47,267.74 L241.40,266.33 L242.36,264.91 L243.34,263.50 L244.35,262.10 L245.38,260.72 L246.44,259.37 L247.53,258.06 L248.64,256.78 L249.78,255.55 L250.94,254.38 L252.13,253.26 L253.35,252.22 L254.60,251.24 L255.88,250.35 L257.18,249.54 L258.52,248.83 L259.88,248.21 L261.28,247.70 L262.70,247.29 L264.14,246.99 L265.61,246.77 L267.09,246.65 L268.59,246.62 L270.09,246.68 L271.61,246.82 L273.13,247.03 L274.65,247.33 L276.18,247.70 L277.69,248.13 L279.21,248.64 L280.71,249.20 L282.20,249.83 L283.67,250.51 L285.12,251.25 L286.55,252.04 L287.96,252.87 L289.33,253.75 L290.68,254.67 L291.99,255.63 L293.27,256.62 L294.51,257.64 L295.73,258.70 L296.92,259.78 L298.08,260.89 L299.22,262.02 L300.33,263.18 L301.43,264.36 L302.51,265.55 L303.57,266.76 L304.62,267.98 L305.66,269.22 L306.68,270.46 L307.70,271.71 L308.71,272.97 L309.72,274.23 L310.72,275.49 L311.72,276.75 L312.72,278.01 L313.72,279.27 L314.72,280.52 L315.72,281.78 L316.72,283.04 L317.71,284.30 L318.71,285.55 L319.70,286.81 L320.70,288.06 L321.69,289.32 L322.68,290.57 L323.68,291.82 L324.67,293.07 L325.66,294.32 L326.66,295.57 L327.65,296.82 L328.65,298.07 L329.64,299.32 L330.64,300.56 L331.63,301.81 L332.63,303.05 L333.63,304.29 L334.63,305.53 L335.63,306.78 L336.63,308.01 L337.64,309.25 L338.64,310.49 L339.65,311.72 L340.66,312.96 L341.67,314.19 L342.68,315.42 L343.70,316.65 L344.71,317.88 L345.73,319.11 L346.75,320.33 L347.78,321.55 L348.81,322.78 L349.84,324.00 L350.87,325.22 L351.91,326.43 L352.94,327.65 L353.99,328.86 L355.03,330.07 L356.08,331.28 L357.14,332.49 L358.19,333.70 L359.25,334.90 L360.32,336.10 L361.39,337.30 L362.46,338.50 L363.54,339.69 L364.62,340.88 L365.71,342.06 L366.81,343.24 L367.92,344.40 L369.03,345.56 L370.16,346.70 L371.29,347.83 L372.44,348.95 L373.60,350.05 L374.77,351.13 L375.96,352.20 L377.16,353.25 L378.37,354.27 L379.61,355.27 L380.86,356.25 L382.12,357.21 L383.41,358.14 L384.71,359.04 L386.04,359.91 L387.38,360.75 L388.75,361.56 L390.14,362.34 L391.55,363.09 L392.99,363.79 L394.45,364.47 L395.93,365.10 L397.44,365.70 L398.97,366.25 L400.52,366.76 L402.09,367.22 L403.66,367.64 L405.25,368.01 L406.85,368.34 L408.45,368.61 L410.06,368.82 L411.66,368.99 L413.27,369.09 L414.87,369.14 L416.46,369.13 L418.05,369.06 L419.63,368.94 L421.20,368.76 L422.76,368.52 L424.32,368.23 L425.86,367.89 L427.39,367.50 L428.91,367.07 L430.42,366.59 L431.92,366.06 L433.40,365.50 L434.88,364.89 L436.33,364.24 L437.78,363.56 L439.21,362.84 L440.62,362.08 L442.02,361.30 L443.41,360.48 L444.77,359.64 L446.12,358.76 L447.46,357.87 L448.77,356.94 L450.07,356.00 L451.35,355.03 L452.61,354.04 L453.86,353.03 L455.09,352.00 L456.31,350.95 L457.51,349.89 L458.70,348.80 L459.88,347.71 L461.04,346.59 L462.19,345.46 L463.33,344.32 L464.45,343.16 L465.57,341.99 L466.67,340.81 L467.76,339.62 L468.85,338.42 L469.92,337.21 L470.98,335.99 L472.04,334.77 L473.09,333.54 L474.13,332.30 L475.17,331.06 L476.20,329.82 L477.22,328.57 L478.24,327.32 L479.25,326.07 L480.26,324.82 L481.26,323.57 L482.26,322.32 L483.26,321.07 L484.25,319.83 L485.24,318.58 L486.23,317.34 L487.22,316.09 L488.20,314.85 L489.19,313.61 L490.17,312.37 L491.15,311.13 L492.13,309.90 L493.11,308.66 L494.09,307.42 L495.07,306.19 L496.05,304.96 L497.03,303.72 L498.01,302.49 L498.99,301.26 L499.97,300.03 L500.95,298.80 L501.94,297.57 L502.93,296.35 L503.92,295.12 L504.91,293.89 L505.91,292.67 L506.91,291.44 L507.91,290.22 L508.92,289.00 L509.93,287.77 L510.94,286.55 L511.96,285.33 L512.98,284.11 L514.01,282.88 L515.04,281.66 L516.08,280.44 L517.13,279.22 L518.18,278.00 L519.23,276.78 L520.30,275.56 L521.37,274.34 L522.45,273.12 L523.53,271.90 L524.62,270.68 L525.72,269.46 L526.83,268.24 L527.95,267.03 L529.07,265.81 L530.21,264.59 L531.35,263.37 L532.50,262.15 L533.67,260.95 L534.84,259.75 L536.03,258.58 L537.23,257.43 L538.44,256.30 L539.66,255.22 L540.90,254.17 L542.16,253.16 L543.43,252.20 L544.71,251.29 L546.01,250.45 L547.33,249.67 L548.67,248.95 L550.03,248.31 L551.40,247.75 L552.80,247.27 L554.21,246.88 L555.65,246.58 L557.11,246.38 L558.59,246.28 L560.09,246.29 L561.62,246.41 L563.16,246.63 L564.70,246.95 L566.25,247.35 L567.80,247.85 L569.34,248.42 L570.87,249.07 L572.38,249.80 L573.86,250.59 L575.32,251.44 L576.74,252.34 L578.12,253.30 L579.46,254.31 L580.74,255.36 L581.97,256.44 L583.15,257.56 L584.28,258.71 L585.36,259.90 L586.39,261.11 L587.39,262.36 L588.34,263.62 L589.26,264.92 L590.14,266.24 L590.99,267.58 L591.81,268.94 L592.61,270.31 L593.37,271.71 L594.12,273.12 L594.85,274.54 L595.56,275.97 L596.26,277.41 L596.95,278.87 L597.62,280.32 L598.30,281.78 L598.96,283.25 L599.63,284.71 L600.30,286.18 L600.97,287.64 L601.64,289.10 L602.33,290.55 L603.02,292.00 L603.71,293.45 L604.41,294.89 L605.11,296.34 L605.81,297.78 L606.51,299.21 L607.21,300.65 L607.91,302.09 L608.61,303.52 L609.31,304.96 L610.01,306.40 L610.70,307.83 L611.38,309.27 L612.06,310.71 L612.74,312.15 L613.40,313.60 L614.06,315.05 L614.71,316.49 L615.35,317.95 L615.99,319.40 L616.62,320.86 L617.24,322.32 L617.86,323.78 L618.48,325.25 L619.09,326.72 L619.69,328.19 L620.30,329.66 L620.90,331.14 L621.50,332.62 L622.10,334.10 L622.69,335.59 L623.29,337.08 L623.89,338.57 L624.49,340.06 L625.08,341.56 L625.69,343.06 L626.29,344.56 L626.89,346.07 L627.50,347.58 L628.12,349.09 L628.74,350.59 L629.39,352.09 L630.06,353.57 L630.76,355.04 L631.49,356.48 L632.28,357.89 L633.11,359.27 L633.99,360.60 L634.95,361.90 L635.97,363.14 L637.06,364.33 L638.24,365.46 L639.51,366.51 L640.84,367.44 L642.21,368.19 L643.60,368.68 L644.98,368.86 L646.33,368.67 L647.63,368.13 L648.84,367.30 L649.97,366.25 L650.97,365.04 L651.87,363.71 L652.67,362.28 L653.39,360.77 L654.03,359.22 L654.63,357.63 L655.18,356.04 L655.70,354.46 L656.19,352.87 L656.65,351.29 L657.08,349.71 L657.49,348.13 L657.87,346.55 L658.23,344.97 L658.58,343.40 L658.90,341.82 L659.21,340.25 L659.51,338.68 L659.80,337.10 L660.07,335.53 L660.35,333.96 L660.61,332.39 L660.88,330.81 L661.14,329.24 L661.40,327.67 L661.65,326.09 L661.91,324.52 L662.16,322.94 L662.41,321.37 L662.66,319.79 L662.90,318.21 L663.15,316.64 L663.39,315.06 L663.63,313.48 L663.86,311.90 L664.10,310.33 L664.33,308.75 L664.56,307.17 L664.79,305.59 L665.02,304.01 L665.24,302.43 L665.46,300.85 L665.68,299.27 L665.90,297.69 L666.12,296.10 L666.33,294.52 L666.54,292.94 L666.75,291.36 L666.96,289.78 L667.17,288.19 L667.37,286.61 L667.57,285.02 L667.77,283.44 L667.97,281.86 L668.17,280.27 L668.36,278.69 L668.56,277.10 L668.75,275.52 L668.94,273.93 L669.12,272.34 L669.31,270.76 L669.49,269.17 L669.67,267.58 L669.86,266.00 L670.03,264.41 L670.21,262.82 L670.39,261.23 L670.56,259.64 L670.73,258.05 L670.90,256.47 L671.07,254.88 L671.24,253.29 L671.40,251.70 L671.56,250.11 L671.73,248.52 L671.89,246.93 L672.04,245.34 L672.20,243.74 L672.36,242.15 L672.51,240.56 L672.66,238.97 L672.81,237.38 L672.96,235.79 L673.11,234.19 L673.26,232.60 L673.40,231.01 L673.55,229.42 L673.69,227.82 L673.83,226.23 L673.97,224.64 L674.11,223.04 L674.24,221.45 L674.38,219.85 L674.51,218.26 L674.65,216.66 L674.78,215.07 L674.91,213.48 L675.04,211.88 L675.16,210.28 L675.29,208.69 L675.42,207.09 L675.54,205.50 L675.66,203.90 L675.78,202.31 L675.90,200.71 L676.02,199.11 L676.14,197.52 L676.26,195.92 L676.37,194.32 L676.49,192.73 L676.60,191.13 L676.71,189.53 L676.82,187.93 L676.93,186.34 L677.04,184.74 L677.15,183.14 L677.26,181.54 L677.36,179.95 L677.47,178.35 L677.57,176.75 L677.67,175.15 L677.78,173.55 L677.88,171.95 L677.98,170.36 L678.08,168.76 L678.18,167.16 L678.27,165.56 L678.37,163.96 L678.47,162.36 L678.56,160.76 L678.65,159.16 L678.75,157.56 L678.84,155.96 L678.93,154.36 L679.02,152.76 L679.11,151.17 L679.20,149.57 L679.29,147.97 L679.38,146.37 L679.47,144.77 L679.55,143.17 L679.64,141.57 L679.72,139.97 L679.81,138.37 L679.89,136.77 L679.98,135.17 L680.06,133.57 L680.14,131.97 L680.22,130.37 L680.30,128.77 L680.38,127.17 L680.46,125.57 L680.54,123.97 L680.62,122.37 L680.70,120.77 L680.78,119.17 L680.86,117.57 L680.93,115.97 L681.01,114.37 L681.09,112.77 L681.16,111.17 L681.24,109.57 L681.31,107.97 L681.39,106.37 L681.46,104.77 L681.53,103.17 L681.61,101.57 L681.68,99.97 L681.75,98.37 L681.83,96.77 L681.90,95.17 L681.97,93.57 L682.04,91.97 L682.11,90.37 L682.19,88.77 L682.26,87.17 L682.33,85.57 L682.40,83.97 L682.47,82.37 L682.54,80.77 L682.61,79.18 L682.68,77.58 L682.75,75.98 L682.82,74.38 L682.89,72.78 L682.96,71.18 L683.03,69.58 L683.10,67.98 L683.17,66.39 L683.24,64.79 L683.31,63.19 L683.38,61.59 L683.45,59.99 L683.52,58.40 L683.59,56.80 L683.66,55.20 L683.73,53.60 L683.80,52.01 L683.87,50.41 L683.94,48.81 L684.01,47.22 L684.08,45.62 L684.15,44.02 L684.22,42.43 L684.30,40.83 L684.37,39.24 L684.44,37.64 L684.51,36.04 L684.58,34.45 L684.66,32.85 L684.73,31.26 L684.80,29.66 L684.88,28.07 L684.95,26.47 L685.02,24.88 L685.10,23.28 L685.17,21.69 L685.25,20.10 L685.32,18.50 L685.40,16.91 L685.48,15.32 L685.55,13.72 L685.63,12.13 L685.71,10.54 L685.77,9.34" fill="none" stroke="#ff8418" stroke-width="3.7" stroke-dasharray="6.2 4.4"/>
<path d="M143.63,9.28 L143.70,10.88 L143.77,12.49 L143.83,14.09 L143.90,15.69 L143.96,17.29 L144.03,18.89 L144.10,20.49 L144.16,22.09 L144.23,23.69 L144.30,25.29 L144.36,26.90 L144.43,28.50 L144.50,30.10 L144.56,31.70 L144.63,33.30 L144.70,34.90 L144.76,36.50 L144.83,38.10 L144.90,39.70 L144.97,41.30 L145.03,42.90 L145.10,44.50 L145.17,46.10 L145.24,47.69 L145.31,49.29 L145.38,50.89 L145.44,52.49 L145.51,54.09 L145.58,55.69 L145.65,57.29 L145.72,58.89 L145.79,60.49 L145.86,62.09 L145.93,63.68 L146.00,65.28 L146.07,66.88 L146.14,68.48 L146.21,70.08 L146.28,71.68 L146.35,73.28 L146.43,74.87 L146.50,76.47 L146.57,78.07 L146.64,79.67 L146.72,81.27 L146.79,82.86 L146.86,84.46 L146.94,86.06 L147.01,87.66 L147.08,89.25 L147.16,90.85 L147.23,92.45 L147.31,94.05 L147.38,95.64 L147.46,97.24 L147.54,98.84 L147.61,100.44 L147.69,102.03 L147.77,103.63 L147.84,105.23 L147.92,106.82 L148.00,108.42 L148.08,110.02 L148.16,111.62 L148.24,113.21 L148.32,114.81 L148.40,116.41 L148.48,118.00 L148.56,119.60 L148.64,121.20 L148.72,122.79 L148.81,124.39 L148.89,125.99 L148.97,127.58 L149.06,129.18 L149.14,130.78 L149.23,132.37 L149.31,133.97 L149.40,135.56 L149.48,137.16 L149.57,138.76 L149.66,140.35 L149.74,141.95 L149.83,143.55 L149.92,145.14 L150.01,146.74 L150.10,148.33 L150.19,149.93 L150.28,151.53 L150.37,153.12 L150.46,154.72 L150.56,156.31 L150.65,157.91 L150.74,159.51 L150.84,161.10 L150.93,162.70 L151.03,164.30 L151.12,165.89 L151.22,167.49 L151.32,169.08 L151.41,170.68 L151.51,172.28 L151.61,173.87 L151.71,175.47 L151.81,177.06 L151.91,178.66 L152.01,180.25 L152.12,181.85 L152.22,183.45 L152.32,185.04 L152.43,186.64 L152.53,188.23 L152.64,189.83 L152.74,191.43 L152.85,193.02 L152.96,194.62 L153.07,196.21 L153.17,197.81 L153.28,199.41 L153.40,201.00 L153.51,202.60 L153.62,204.19 L153.73,205.79 L153.84,207.39 L153.96,208.98 L154.07,210.58 L154.19,212.18 L154.30,213.77 L154.42,215.37 L154.54,216.96 L154.66,218.56 L154.78,220.16 L154.90,221.75 L155.02,223.35 L155.14,224.95 L155.26,226.54 L155.39,228.14 L155.51,229.73 L155.64,231.33 L155.76,232.93 L155.89,234.52 L156.02,236.12 L156.15,237.72 L156.28,239.31 L156.41,240.91 L156.54,242.51 L156.67,244.10 L156.80,245.70 L156.94,247.30 L157.07,248.89 L157.21,250.49 L157.34,252.09 L157.48,253.69 L157.62,255.28 L157.76,256.88 L157.90,258.48 L158.04,260.07 L158.18,261.67 L158.33,263.27 L158.47,264.87 L158.62,266.46 L158.76,268.06 L158.91,269.66 L159.06,271.26 L159.21,272.85 L159.36,274.45 L159.51,276.05 L159.66,277.65 L159.81,279.24 L159.97,280.84 L160.12,282.44 L160.28,284.04 L160.44,285.63 L160.60,287.23 L160.76,288.82 L160.92,290.42 L161.09,292.01 L161.26,293.61 L161.43,295.20 L161.60,296.79 L161.77,298.39 L161.95,299.98 L162.13,301.57 L162.31,303.16 L162.49,304.74 L162.68,306.33 L162.87,307.91 L163.06,309.50 L163.26,311.08 L163.45,312.66 L163.66,314.24 L163.86,315.82 L164.07,317.39 L164.28,318.97 L164.50,320.54 L164.71,322.11 L164.94,323.68 L165.16,325.25 L165.39,326.81 L165.63,328.37 L165.86,329.93 L166.11,331.49 L166.35,333.04 L166.60,334.60 L166.86,336.15 L167.13,337.70 L167.40,339.26 L167.68,340.82 L167.97,342.38 L168.28,343.95 L168.60,345.52 L168.93,347.11 L169.27,348.70 L169.64,350.30 L170.02,351.92 L170.41,353.55 L170.83,355.19 L171.27,356.85 L171.73,358.52 L172.24,360.18 L172.80,361.80 L173.45,363.34 L174.21,364.79 L175.10,366.10 L176.13,367.23 L177.26,368.12 L178.45,368.68 L179.66,368.85 L180.85,368.58 L182.01,367.92 L183.13,366.95 L184.22,365.75 L185.25,364.39 L186.24,362.97 L187.17,361.53 L188.05,360.08 L188.88,358.63 L189.66,357.17 L190.40,355.70 L191.10,354.23 L191.76,352.75 L192.38,351.26 L192.97,349.77 L193.53,348.28 L194.07,346.78 L194.57,345.27 L195.06,343.76 L195.52,342.25 L195.97,340.74 L196.41,339.22 L196.83,337.69 L197.25,336.17 L197.66,334.64 L198.06,333.11 L198.47,331.57 L198.87,330.04 L199.28,328.50 L199.69,326.96 L200.10,325.42 L200.51,323.88 L200.92,322.34 L201.33,320.79 L201.75,319.24 L202.16,317.70 L202.58,316.15 L202.99,314.60 L203.41,313.05 L203.83,311.50 L204.25,309.94 L204.67,308.39 L205.09,306.84 L205.51,305.28 L205.93,303.73 L206.36,302.18 L206.78,300.62 L207.21,299.07 L207.63,297.51 L208.06,295.96 L208.49,294.40 L208.92,292.85 L209.35,291.29 L209.78,289.74 L210.21,288.19 L210.64,286.63 L211.07,285.08 L211.51,283.53 L211.94,281.98 L212.37,280.43 L212.81,278.88 L213.25,277.33 L213.68,275.79 L214.12,274.24 L214.56,272.70 L215.00,271.16 L215.44,269.62 L215.88,268.08 L216.32,266.54 L216.76,265.01 L217.21,263.48 L217.65,261.95 L218.09,260.42 L218.54,258.89 L218.99,257.37 L219.43,255.85 L219.88,254.33 L220.33,252.81 L220.77,251.30 L221.22,249.79 L221.67,248.28 L222.12,246.77 L222.58,245.27 L223.03,243.76 L223.49,242.26 L223.95,240.75 L224.42,239.25 L224.88,237.75 L225.35,236.25 L225.83,234.75 L226.31,233.25 L226.79,231.74 L227.28,230.24 L227.77,228.73 L228.27,227.23 L228.77,225.72 L229.28,224.21 L229.80,222.69 L230.32,221.18 L230.85,219.66 L231.38,218.14 L231.93,216.61 L232.48,215.09 L233.04,213.55 L233.60,212.02 L234.18,210.48 L234.76,208.93 L235.35,207.38 L235.96,205.83 L236.57,204.27 L237.19,202.70 L237.83,201.14 L238.48,199.59 L239.15,198.04 L239.84,196.51 L240.55,195.00 L241.29,193.51 L242.05,192.04 L242.84,190.61 L243.66,189.20 L244.51,187.84 L245.39,186.51 L246.31,185.23 L247.27,184.00 L248.27,182.82 L249.31,181.70 L250.40,180.64 L251.53,179.64 L252.71,178.72 L253.94,177.86 L255.22,177.08 L256.55,176.38 L257.95,175.77 L259.40,175.24 L260.90,174.80 L262.43,174.47 L264.00,174.23 L265.59,174.10 L267.18,174.08 L268.77,174.18 L270.35,174.39 L271.90,174.73 L273.42,175.19 L274.90,175.79 L276.33,176.52 L277.70,177.38 L279.02,178.35 L280.30,179.41 L281.53,180.54 L282.71,181.73 L283.86,182.97 L284.97,184.24 L286.04,185.52 L287.09,186.81 L288.10,188.11 L289.08,189.42 L290.04,190.75 L290.97,192.08 L291.87,193.43 L292.75,194.78 L293.61,196.14 L294.45,197.50 L295.27,198.88 L296.08,200.26 L296.87,201.64 L297.65,203.03 L298.41,204.43 L299.17,205.83 L299.91,207.23 L300.65,208.64 L301.39,210.04 L302.12,211.45 L302.85,212.87 L303.58,214.28 L304.31,215.69 L305.04,217.10 L305.77,218.51 L306.50,219.93 L307.23,221.34 L307.96,222.76 L308.69,224.17 L309.42,225.59 L310.15,227.00 L310.88,228.42 L311.61,229.83 L312.34,231.25 L313.07,232.66 L313.80,234.08 L314.53,235.50 L315.27,236.91 L316.00,238.33 L316.73,239.74 L317.47,241.16 L318.20,242.58 L318.94,243.99 L319.67,245.41 L320.41,246.83 L321.15,248.24 L321.89,249.66 L322.63,251.08 L323.37,252.49 L324.11,253.91 L324.85,255.32 L325.59,256.74 L326.34,258.15 L327.08,259.57 L327.83,260.98 L328.58,262.40 L329.32,263.81 L330.07,265.22 L330.82,266.64 L331.58,268.05 L332.33,269.46 L333.08,270.87 L333.84,272.28 L334.60,273.69 L335.36,275.10 L336.12,276.51 L336.88,277.92 L337.64,279.33 L338.41,280.73 L339.17,282.14 L339.94,283.55 L340.71,284.95 L341.48,286.35 L342.26,287.76 L343.03,289.16 L343.81,290.56 L344.59,291.96 L345.37,293.36 L346.15,294.76 L346.94,296.16 L347.72,297.55 L348.51,298.95 L349.30,300.35 L350.10,301.74 L350.89,303.13 L351.69,304.52 L352.49,305.91 L353.29,307.30 L354.09,308.69 L354.90,310.08 L355.71,311.46 L356.52,312.84 L357.33,314.23 L358.15,315.61 L358.97,316.99 L359.79,318.37 L360.61,319.74 L361.44,321.12 L362.27,322.49 L363.10,323.86 L363.94,325.23 L364.79,326.59 L365.64,327.95 L366.50,329.30 L367.37,330.65 L368.25,331.98 L369.13,333.31 L370.03,334.63 L370.94,335.95 L371.86,337.25 L372.80,338.54 L373.74,339.82 L374.71,341.09 L375.69,342.34 L376.68,343.59 L377.69,344.81 L378.72,346.03 L379.77,347.22 L380.84,348.40 L381.92,349.57 L383.03,350.72 L384.16,351.84 L385.32,352.95 L386.49,354.04 L387.69,355.11 L388.92,356.16 L390.17,357.19 L391.45,358.19 L392.75,359.17 L394.08,360.13 L395.44,361.06 L396.83,361.96 L398.25,362.84 L399.69,363.67 L401.14,364.46 L402.62,365.21 L404.11,365.90 L405.60,366.53 L407.11,367.09 L408.62,367.59 L410.13,368.01 L411.65,368.35 L413.16,368.61 L414.66,368.77 L416.15,368.83 L417.63,368.80 L419.10,368.67 L420.56,368.45 L422.00,368.15 L423.43,367.76 L424.85,367.29 L426.26,366.74 L427.65,366.12 L429.03,365.44 L430.39,364.69 L431.74,363.89 L433.08,363.02 L434.40,362.11 L435.71,361.15 L436.99,360.14 L438.27,359.09 L439.53,358.01 L440.77,356.90 L441.99,355.76 L443.20,354.59 L444.39,353.41 L445.57,352.21 L446.72,350.99 L447.86,349.77 L448.98,348.54 L450.09,347.31 L451.18,346.06 L452.25,344.81 L453.30,343.56 L454.34,342.29 L455.37,341.03 L456.38,339.75 L457.37,338.47 L458.35,337.18 L459.32,335.89 L460.28,334.59 L461.22,333.29 L462.15,331.98 L463.07,330.67 L463.98,329.35 L464.88,328.03 L465.77,326.71 L466.65,325.37 L467.52,324.04 L468.38,322.70 L469.23,321.36 L470.07,320.01 L470.91,318.66 L471.74,317.31 L472.56,315.95 L473.38,314.59 L474.18,313.23 L474.99,311.87 L475.79,310.50 L476.58,309.13 L477.37,307.76 L478.16,306.38 L478.94,305.01 L479.72,303.63 L480.50,302.25 L481.28,300.87 L482.05,299.49 L482.82,298.11 L483.60,296.72 L484.37,295.34 L485.14,293.95 L485.90,292.57 L486.67,291.18 L487.44,289.79 L488.20,288.40 L488.96,287.01 L489.73,285.61 L490.49,284.22 L491.25,282.83 L492.01,281.43 L492.77,280.03 L493.52,278.63 L494.28,277.23 L495.03,275.83 L495.79,274.43 L496.54,273.03 L497.29,271.63 L498.04,270.22 L498.79,268.81 L499.54,267.41 L500.29,266.00 L501.04,264.59 L501.79,263.18 L502.53,261.77 L503.28,260.35 L504.02,258.94 L504.77,257.52 L505.51,256.11 L506.25,254.69 L506.99,253.27 L507.73,251.85 L508.47,250.43 L509.21,249.01 L509.95,247.58 L510.69,246.16 L511.43,244.73 L512.16,243.31 L512.90,241.88 L513.64,240.45 L514.37,239.02 L515.11,237.59 L515.84,236.15 L516.58,234.72 L517.31,233.28 L518.04,231.85 L518.78,230.41 L519.51,228.97 L520.24,227.53 L520.97,226.09 L521.70,224.65 L522.43,223.21 L523.16,221.76 L523.90,220.32 L524.63,218.87 L525.36,217.42 L526.09,215.97 L526.81,214.52 L527.54,213.07 L528.27,211.62 L529.00,210.17 L529.74,208.72 L530.48,207.27 L531.22,205.83 L531.97,204.39 L532.73,202.97 L533.51,201.55 L534.29,200.15 L535.09,198.76 L535.91,197.38 L536.75,196.02 L537.60,194.69 L538.48,193.37 L539.38,192.07 L540.30,190.80 L541.25,189.55 L542.23,188.33 L543.24,187.14 L544.29,185.98 L545.36,184.86 L546.47,183.76 L547.62,182.70 L548.81,181.68 L550.03,180.70 L551.30,179.76 L552.61,178.87 L553.97,178.01 L555.37,177.21 L556.82,176.45 L558.32,175.75 L559.85,175.12 L561.39,174.58 L562.96,174.14 L564.53,173.82 L566.09,173.62 L567.65,173.57 L569.17,173.67 L570.67,173.94 L572.13,174.40 L573.54,175.05 L574.89,175.88 L576.20,176.86 L577.46,177.96 L578.66,179.16 L579.83,180.41 L580.95,181.70 L582.02,183.00 L583.05,184.32 L584.04,185.65 L585.00,186.99 L585.91,188.34 L586.79,189.70 L587.64,191.08 L588.46,192.46 L589.24,193.86 L590.00,195.27 L590.73,196.68 L591.43,198.10 L592.11,199.54 L592.77,200.98 L593.40,202.42 L594.02,203.88 L594.62,205.34 L595.21,206.81 L595.78,208.28 L596.34,209.76 L596.89,211.24 L597.43,212.73 L597.96,214.22 L598.49,215.72 L599.01,217.22 L599.53,218.72 L600.05,220.23 L600.56,221.73 L601.08,223.24 L601.59,224.76 L602.09,226.27 L602.60,227.79 L603.11,229.31 L603.61,230.83 L604.11,232.35 L604.60,233.88 L605.10,235.40 L605.59,236.93 L606.07,238.46 L606.56,239.99 L607.04,241.52 L607.52,243.06 L608.00,244.59 L608.47,246.13 L608.94,247.66 L609.41,249.20 L609.88,250.74 L610.34,252.28 L610.80,253.81 L611.25,255.35 L611.70,256.89 L612.15,258.43 L612.60,259.97 L613.04,261.51 L613.49,263.05 L613.92,264.60 L614.36,266.14 L614.79,267.68 L615.23,269.22 L615.66,270.76 L616.08,272.31 L616.51,273.85 L616.94,275.39 L617.36,276.93 L617.78,278.48 L618.20,280.02 L618.62,281.56 L619.04,283.11 L619.46,284.65 L619.87,286.19 L620.29,287.74 L620.70,289.28 L621.12,290.82 L621.53,292.37 L621.95,293.91 L622.36,295.45 L622.78,296.99 L623.19,298.54 L623.60,300.08 L624.02,301.62 L624.43,303.16 L624.85,304.71 L625.27,306.25 L625.68,307.79 L626.10,309.33 L626.52,310.87 L626.94,312.41 L627.36,313.95 L627.78,315.49 L628.21,317.03 L628.63,318.57 L629.06,320.11 L629.49,321.65 L629.92,323.19 L630.36,324.72 L630.79,326.26 L631.23,327.80 L631.67,329.33 L632.12,330.87 L632.56,332.40 L633.01,333.94 L633.46,335.47 L633.92,337.01 L634.37,338.54 L634.83,340.07 L635.30,341.60 L635.77,343.13 L636.24,344.66 L636.71,346.19 L637.20,347.72 L637.70,349.24 L638.23,350.76 L638.78,352.27 L639.36,353.78 L639.98,355.27 L640.65,356.76 L641.37,358.23 L642.15,359.70 L642.98,361.14 L643.89,362.58 L644.87,363.99 L645.92,365.35 L647.04,366.58 L648.21,367.60 L649.43,368.34 L650.69,368.71 L651.98,368.64 L653.26,368.15 L654.48,367.33 L655.58,366.25 L656.52,365.02 L657.27,363.67 L657.89,362.23 L658.39,360.72 L658.81,359.16 L659.19,357.58 L659.55,355.99 L659.91,354.40 L660.26,352.81 L660.61,351.22 L660.95,349.63 L661.28,348.04 L661.61,346.45 L661.93,344.86 L662.24,343.27 L662.55,341.68 L662.86,340.09 L663.16,338.50 L663.45,336.91 L663.74,335.32 L664.03,333.73 L664.30,332.14 L664.58,330.55 L664.85,328.97 L665.11,327.38 L665.37,325.79 L665.63,324.20 L665.88,322.61 L666.12,321.02 L666.36,319.43 L666.60,317.84 L666.83,316.25 L667.06,314.66 L667.29,313.08 L667.51,311.49 L667.72,309.90 L667.93,308.31 L668.14,306.72 L668.35,305.13 L668.55,303.54 L668.75,301.95 L668.94,300.36 L669.13,298.78 L669.32,297.19 L669.50,295.60 L669.68,294.01 L669.86,292.42 L670.03,290.83 L670.20,289.24 L670.37,287.65 L670.53,286.06 L670.70,284.47 L670.86,282.88 L671.01,281.29 L671.17,279.71 L671.32,278.12 L671.47,276.53 L671.62,274.94 L671.76,273.35 L671.90,271.76 L672.04,270.17 L672.18,268.58 L672.32,266.99 L672.45,265.40 L672.58,263.81 L672.72,262.22 L672.84,260.63 L672.97,259.03 L673.10,257.44 L673.22,255.85 L673.35,254.26 L673.47,252.67 L673.59,251.08 L673.71,249.49 L673.83,247.90 L673.94,246.31 L674.06,244.71 L674.18,243.12 L674.29,241.53 L674.40,239.94 L674.52,238.35 L674.63,236.75 L674.74,235.16 L674.86,233.57 L674.97,231.98 L675.08,230.38 L675.19,228.79 L675.30,227.20 L675.41,225.60 L675.52,224.01 L675.63,222.41 L675.74,220.82 L675.85,219.23 L675.96,217.63 L676.07,216.04 L676.18,214.44 L676.29,212.85 L676.40,211.25 L676.51,209.66 L676.62,208.06 L676.73,206.47 L676.84,204.87 L676.94,203.28 L677.05,201.68 L677.16,200.08 L677.27,198.49 L677.37,196.89 L677.48,195.30 L677.58,193.70 L677.69,192.10 L677.80,190.51 L677.90,188.91 L678.01,187.31 L678.11,185.72 L678.22,184.12 L678.32,182.52 L678.43,180.93 L678.53,179.33 L678.63,177.73 L678.74,176.13 L678.84,174.54 L678.94,172.94 L679.04,171.34 L679.14,169.74 L679.25,168.14 L679.35,166.55 L679.45,164.95 L679.55,163.35 L679.65,161.75 L679.75,160.15 L679.85,158.56 L679.95,156.96 L680.04,155.36 L680.14,153.76 L680.24,152.16 L680.34,150.56 L680.44,148.96 L680.53,147.37 L680.63,145.77 L680.72,144.17 L680.82,142.57 L680.92,140.97 L681.01,139.37 L681.10,137.77 L681.20,136.17 L681.29,134.57 L681.38,132.97 L681.48,131.37 L681.57,129.78 L681.66,128.18 L681.75,126.58 L681.84,124.98 L681.93,123.38 L682.02,121.78 L682.11,120.18 L682.20,118.58 L682.29,116.98 L682.38,115.38 L682.47,113.78 L682.55,112.18 L682.64,110.58 L682.73,108.98 L682.81,107.38 L682.90,105.79 L682.98,104.19 L683.07,102.59 L683.15,100.99 L683.23,99.39 L683.32,97.79 L683.40,96.19 L683.48,94.59 L683.56,92.99 L683.64,91.39 L683.72,89.79 L683.80,88.19 L683.88,86.59 L683.96,84.99 L684.03,83.39 L684.11,81.80 L684.19,80.20 L684.26,78.60 L684.34,77.00 L684.42,75.40 L684.49,73.80 L684.56,72.20 L684.64,70.60 L684.71,69.00 L684.78,67.41 L684.85,65.81 L684.92,64.21 L684.99,62.61 L685.06,61.01 L685.13,59.41 L685.20,57.81 L685.27,56.22 L685.34,54.62 L685.40,53.02 L685.47,51.42 L685.53,49.82 L685.60,48.23 L685.66,46.63 L685.73,45.03 L685.79,43.43 L685.85,41.84 L685.91,40.24 L685.97,38.64 L686.03,37.04 L686.09,35.45 L686.15,33.85 L686.21,32.25 L686.27,30.66 L686.32,29.06 L686.38,27.46 L686.43,25.87 L686.49,24.27 L686.54,22.67 L686.59,21.08 L686.65,19.48 L686.70,17.89 L686.75,16.29 L686.80,14.70 L686.85,13.10 L686.90,11.50 L686.95,9.91 L686.96,9.32" fill="none" stroke="#22a4d8" stroke-width="3.7" stroke-dasharray="5.7 2.7"/>
</g>
<g stroke="#000" stroke-width="1.55">
<line x1="153.27" y1="369.45" x2="153.27" y2="366.45"/>
<line x1="153.27" y1="11.05" x2="153.27" y2="14.05"/>
<line x1="186.03" y1="369.45" x2="186.03" y2="366.45"/>
<line x1="186.03" y1="11.05" x2="186.03" y2="14.05"/>
<line x1="218.79" y1="369.45" x2="218.79" y2="366.45"/>
<line x1="218.79" y1="11.05" x2="218.79" y2="14.05"/>
<line x1="251.55" y1="369.45" x2="251.55" y2="364.45"/>
<line x1="251.55" y1="11.05" x2="251.55" y2="16.05"/>
<line x1="284.31" y1="369.45" x2="284.31" y2="366.45"/>
<line x1="284.31" y1="11.05" x2="284.31" y2="14.05"/>
<line x1="317.07" y1="369.45" x2="317.07" y2="366.45"/>
<line x1="317.07" y1="11.05" x2="317.07" y2="14.05"/>
<line x1="349.83" y1="369.45" x2="349.83" y2="366.45"/>
<line x1="349.83" y1="11.05" x2="349.83" y2="14.05"/>
<line x1="382.59" y1="369.45" x2="382.59" y2="366.45"/>
<line x1="382.59" y1="11.05" x2="382.59" y2="14.05"/>
<line x1="415.35" y1="369.45" x2="415.35" y2="364.45"/>
<line x1="415.35" y1="11.05" x2="415.35" y2="16.05"/>
<line x1="448.11" y1="369.45" x2="448.11" y2="366.45"/>
<line x1="448.11" y1="11.05" x2="448.11" y2="14.05"/>
<line x1="480.87" y1="369.45" x2="480.87" y2="366.45"/>
<line x1="480.87" y1="11.05" x2="480.87" y2="14.05"/>
<line x1="513.63" y1="369.45" x2="513.63" y2="366.45"/>
<line x1="513.63" y1="11.05" x2="513.63" y2="14.05"/>
<line x1="546.39" y1="369.45" x2="546.39" y2="366.45"/>
<line x1="546.39" y1="11.05" x2="546.39" y2="14.05"/>
<line x1="579.15" y1="369.45" x2="579.15" y2="364.45"/>
<line x1="579.15" y1="11.05" x2="579.15" y2="16.05"/>
<line x1="611.91" y1="369.45" x2="611.91" y2="366.45"/>
<line x1="611.91" y1="11.05" x2="611.91" y2="14.05"/>
<line x1="644.67" y1="369.45" x2="644.67" y2="366.45"/>
<line x1="644.67" y1="11.05" x2="644.67" y2="14.05"/>
<line x1="677.43" y1="369.45" x2="677.43" y2="366.45"/>
<line x1="677.43" y1="11.05" x2="677.43" y2="14.05"/>
</g>
<g stroke="#505050" stroke-width="1.15">
<line x1="125.3" y1="369.45" x2="130.0" y2="369.45"/>
<line x1="705.3" y1="369.45" x2="700.5999999999999" y2="369.45"/>
<line x1="125.3" y1="351.53" x2="128.0" y2="351.53"/>
<line x1="705.3" y1="351.53" x2="702.5999999999999" y2="351.53"/>
<line x1="125.3" y1="333.61" x2="128.0" y2="333.61"/>
<line x1="705.3" y1="333.61" x2="702.5999999999999" y2="333.61"/>
<line x1="125.3" y1="315.69" x2="128.0" y2="315.69"/>
<line x1="705.3" y1="315.69" x2="702.5999999999999" y2="315.69"/>
<line x1="125.3" y1="297.77" x2="128.0" y2="297.77"/>
<line x1="705.3" y1="297.77" x2="702.5999999999999" y2="297.77"/>
<line x1="125.3" y1="279.85" x2="130.0" y2="279.85"/>
<line x1="705.3" y1="279.85" x2="700.5999999999999" y2="279.85"/>
<line x1="125.3" y1="261.93" x2="128.0" y2="261.93"/>
<line x1="705.3" y1="261.93" x2="702.5999999999999" y2="261.93"/>
<line x1="125.3" y1="244.01" x2="128.0" y2="244.01"/>
<line x1="705.3" y1="244.01" x2="702.5999999999999" y2="244.01"/>
<line x1="125.3" y1="226.09" x2="128.0" y2="226.09"/>
<line x1="705.3" y1="226.09" x2="702.5999999999999" y2="226.09"/>
<line x1="125.3" y1="208.17" x2="128.0" y2="208.17"/>
<line x1="705.3" y1="208.17" x2="702.5999999999999" y2="208.17"/>
<line x1="125.3" y1="190.25" x2="130.0" y2="190.25"/>
<line x1="705.3" y1="190.25" x2="700.5999999999999" y2="190.25"/>
<line x1="125.3" y1="172.33" x2="128.0" y2="172.33"/>
<line x1="705.3" y1="172.33" x2="702.5999999999999" y2="172.33"/>
<line x1="125.3" y1="154.41" x2="128.0" y2="154.41"/>
<line x1="705.3" y1="154.41" x2="702.5999999999999" y2="154.41"/>
<line x1="125.3" y1="136.49" x2="128.0" y2="136.49"/>
<line x1="705.3" y1="136.49" x2="702.5999999999999" y2="136.49"/>
<line x1="125.3" y1="118.57" x2="128.0" y2="118.57"/>
<line x1="705.3" y1="118.57" x2="702.5999999999999" y2="118.57"/>
<line x1="125.3" y1="100.65" x2="130.0" y2="100.65"/>
<line x1="705.3" y1="100.65" x2="700.5999999999999" y2="100.65"/>
<line x1="125.3" y1="82.73" x2="128.0" y2="82.73"/>
<line x1="705.3" y1="82.73" x2="702.5999999999999" y2="82.73"/>
<line x1="125.3" y1="64.81" x2="128.0" y2="64.81"/>
<line x1="705.3" y1="64.81" x2="702.5999999999999" y2="64.81"/>
<line x1="125.3" y1="46.89" x2="128.0" y2="46.89"/>
<line x1="705.3" y1="46.89" x2="702.5999999999999" y2="46.89"/>
<line x1="125.3" y1="28.97" x2="128.0" y2="28.97"/>
<line x1="705.3" y1="28.97" x2="702.5999999999999" y2="28.97"/>
<line x1="125.3" y1="11.05" x2="130.0" y2="11.05"/>
<line x1="705.3" y1="11.05" x2="700.5999999999999" y2="11.05"/>
</g>
<line x1="125.3" y1="11.05" x2="125.3" y2="369.45" stroke="#444" stroke-width="1.4"/>
<line x1="705.3" y1="11.05" x2="705.3" y2="369.45" stroke="#444" stroke-width="1.4"/>
<line x1="124.5" y1="11.05" x2="706" y2="11.05" stroke="#000" stroke-width="2.1"/>
<line x1="124.5" y1="369.45" x2="706" y2="369.45" stroke="#000" stroke-width="2.1"/>
<line x1="334.15" y1="38.95" x2="381.75" y2="38.95" stroke="#0a0aa6" stroke-width="3.7"/>
<line x1="334.15" y1="92.6" x2="381.75" y2="92.6" stroke="#800080" stroke-width="3.7" stroke-dasharray="22.9 10"/>
<line x1="334.15" y1="144.95" x2="381.75" y2="144.95" stroke="#12ab12" stroke-width="3.7" stroke-dasharray="14.4 10.4"/>
<line x1="334.15" y1="196.9" x2="381.75" y2="196.9" stroke="#ff8418" stroke-width="3.7" stroke-dasharray="6.2 4.4"/>
<line x1="334.15" y1="248.9" x2="381.75" y2="248.9" stroke="#22a4d8" stroke-width="3.7" stroke-dasharray="5.7 2.7"/>
<text transform="translate(38.87,378.55) scale(1.0530,0.9924)" class="s" style="font-size:28.8px">1.0000</text>
<text transform="translate(38.87,288.95) scale(1.0530,0.9924)" class="s" style="font-size:28.8px">1.0005</text>
<text transform="translate(38.87,199.35) scale(1.0530,0.9924)" class="s" style="font-size:28.8px">1.0010</text>
<text transform="translate(38.87,109.75) scale(1.0530,0.9924)" class="s" style="font-size:28.8px">1.0015</text>
<text transform="translate(38.87,20.15) scale(1.0530,0.9924)" class="s" style="font-size:28.8px">1.0020</text>
<text transform="translate(240.31,397.85) scale(1.0853,1.0000)" class="s" style="font-size:28.8px">0.5</text>
<text transform="translate(395.63,397.91) scale(1.0735,0.9873)" class="s" style="font-size:28.8px">0.0</text>
<text transform="translate(560.04,397.85) scale(1.0588,1.0000)" class="s" style="font-size:28.8px">0.5</text>
<text transform="translate(407.66,439.06) scale(0.9763,1.0370)" class="s" style="font-size:30px">y</text>
<text transform="translate(396.92,49.85) scale(1.0426,1.0272)" class="sai" style="font-size:28px;stroke-width:0px">μ</text>
<text transform="translate(424.43,55.01) scale(1.0903,1.0421)" class="s" style="font-size:21px">hyd</text>
<text transform="translate(474.78,49.34) scale(1.0529,1.0179)" class="s" style="font-size:28.8px">2.7</text>
<text transform="translate(396.92,103.10) scale(1.0426,1.0272)" class="sai" style="font-size:28px;stroke-width:0px">μ</text>
<text transform="translate(440.09,102.55) scale(1.0727,1.0051)" class="s" style="font-size:28.8px">3.2</text>
<text transform="translate(396.92,155.00) scale(1.0426,1.0272)" class="sai" style="font-size:28px;stroke-width:0px">μ</text>
<text transform="translate(440.09,154.45) scale(1.0727,1.0051)" class="s" style="font-size:28.8px">3.9</text>
<text transform="translate(396.92,207.00) scale(1.0426,1.0272)" class="sai" style="font-size:28px;stroke-width:0px">μ</text>
<text transform="translate(440.09,206.45) scale(1.0727,1.0051)" class="s" style="font-size:28.8px">4.7</text>
<text transform="translate(396.92,259.00) scale(1.0426,1.0272)" class="sai" style="font-size:28px;stroke-width:0px">μ</text>
<text transform="translate(440.09,258.45) scale(1.0727,1.0051)" class="s" style="font-size:28.8px">5.4</text>
<rect x="225.0" y="388.45" width="13.1" height="2.1"/>
<g transform="translate(0,-53.30)" stroke="#000" fill="none" stroke-width="2.15" stroke-linejoin="round"><path d="M415.0,89.2 L424.9,89.2"/><path d="M420.5,89.2 L418.25,98.6 Q417.5,102.0 420.0,101.9 L421.7,101.65"/></g>
<rect x="460.6" y="38.40" width="13.60" height="2.3"/><rect x="460.6" y="44.20" width="13.60" height="2.35"/>
<g transform="translate(0,-0.05)" stroke="#000" fill="none" stroke-width="2.15" stroke-linejoin="round"><path d="M415.0,89.2 L424.9,89.2"/><path d="M420.5,89.2 L418.25,98.6 Q417.5,102.0 420.0,101.9 L421.7,101.65"/></g>
<rect x="425.9" y="91.65" width="14.10" height="2.3"/><rect x="425.9" y="97.45" width="14.10" height="2.35"/>
<g transform="translate(0,51.85)" stroke="#000" fill="none" stroke-width="2.15" stroke-linejoin="round"><path d="M415.0,89.2 L424.9,89.2"/><path d="M420.5,89.2 L418.25,98.6 Q417.5,102.0 420.0,101.9 L421.7,101.65"/></g>
<rect x="425.9" y="143.55" width="14.10" height="2.3"/><rect x="425.9" y="149.35" width="14.10" height="2.35"/>
<g transform="translate(0,103.85)" stroke="#000" fill="none" stroke-width="2.15" stroke-linejoin="round"><path d="M415.0,89.2 L424.9,89.2"/><path d="M420.5,89.2 L418.25,98.6 Q417.5,102.0 420.0,101.9 L421.7,101.65"/></g>
<rect x="425.9" y="195.55" width="14.10" height="2.3"/><rect x="425.9" y="201.35" width="14.10" height="2.35"/>
<g transform="translate(0,155.85)" stroke="#000" fill="none" stroke-width="2.15" stroke-linejoin="round"><path d="M415.0,89.2 L424.9,89.2"/><path d="M420.5,89.2 L418.25,98.6 Q417.5,102.0 420.0,101.9 L421.7,101.65"/></g>
<rect x="425.9" y="247.55" width="14.10" height="2.3"/><rect x="425.9" y="253.35" width="14.10" height="2.35"/>
<g stroke="#000" fill="none" stroke-linecap="round" stroke-linejoin="round"><path d="M10.0,187.5 L20.9,190.9" stroke-width="2.2"/><path d="M20.9,190.9 Q24.4,191.5 23.5,188.8 Q22.6,186.9 20.3,186.2" stroke-width="1.4"/><path d="M18.6,191.3 Q21.6,193.4 23.4,196.6" stroke-width="0.95"/><path d="M10.1,196.0 L21.3,199.1" stroke-width="2.2"/><path d="M21.3,199.1 Q24.9,199.8 23.4,196.4" stroke-width="1.4"/><path d="M9.5,195.2 L10.9,195.6 L10.3,200.5 Z" fill="#000" stroke-width="0.5"/></g>
<path d="M2.0,176.8 L2.0,183.7" stroke="#000" stroke-width="1.7" fill="none"/><path d="M2.8,180.7 L9.0,181.2 Q11.3,181.6 11.2,179.5" stroke="#000" stroke-width="1.35" fill="none"/>
</svg>
</body></html>
